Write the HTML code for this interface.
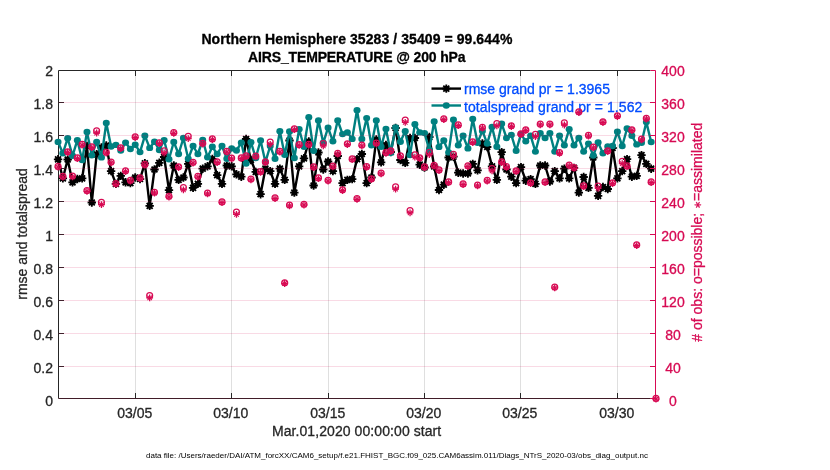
<!DOCTYPE html><html><head><meta charset="utf-8"><title>AIRS_TEMPERATURE @ 200 hPa</title>
<style>html,body{margin:0;padding:0;background:#fff;}body{width:830px;height:470px;overflow:hidden;}svg{display:block;}text{font-family:'Liberation Sans',Arial,Helvetica,sans-serif;}</style></head><body>
<svg width="830" height="470" viewBox="0 0 830 470">
<rect x="0" y="0" width="830" height="470" fill="#fff"/>
<text x="356.9" y="44" font-size="14" font-weight="bold" text-anchor="middle" fill="#000" textLength="311" lengthAdjust="spacing" stroke="#000" stroke-width="0.3">Northern Hemisphere 35283 / 35409 = 99.644%</text>
<text x="356.8" y="61.6" font-size="14" font-weight="bold" text-anchor="middle" fill="#000" textLength="217.6" lengthAdjust="spacing" stroke="#000" stroke-width="0.3">AIRS_TEMPERATURE @ 200 hPa</text>
<path d="M58.5 70.5H650.5" stroke="rgb(38,38,38)" stroke-width="1" fill="none"/>
<path d="M58.5 70.5V398.5" stroke="rgb(38,38,38)" stroke-width="1" fill="none"/>
<path d="M58.5 398.5H655.5" stroke="rgb(65,28,40)" stroke-width="1" fill="none"/>
<path d="M135.50 398.5V393.0M135.50 70.5V76.0" stroke="rgb(38,38,38)" stroke-width="1"/>
<path d="M231.50 398.5V393.0M231.50 70.5V76.0" stroke="rgb(38,38,38)" stroke-width="1"/>
<path d="M328.50 398.5V393.0M328.50 70.5V76.0" stroke="rgb(38,38,38)" stroke-width="1"/>
<path d="M424.50 398.5V393.0M424.50 70.5V76.0" stroke="rgb(38,38,38)" stroke-width="1"/>
<path d="M520.50 398.5V393.0M520.50 70.5V76.0" stroke="rgb(38,38,38)" stroke-width="1"/>
<path d="M617.50 398.5V393.0M617.50 70.5V76.0" stroke="rgb(38,38,38)" stroke-width="1"/>
<path d="M58.5 366.50H64.0" stroke="rgb(38,38,38)" stroke-width="1"/>
<path d="M58.5 333.50H64.0" stroke="rgb(38,38,38)" stroke-width="1"/>
<path d="M58.5 300.50H64.0" stroke="rgb(38,38,38)" stroke-width="1"/>
<path d="M58.5 267.50H64.0" stroke="rgb(38,38,38)" stroke-width="1"/>
<path d="M58.5 234.50H64.0" stroke="rgb(38,38,38)" stroke-width="1"/>
<path d="M58.5 201.50H64.0" stroke="rgb(38,38,38)" stroke-width="1"/>
<path d="M58.5 168.50H64.0" stroke="rgb(38,38,38)" stroke-width="1"/>
<path d="M58.5 135.50H64.0" stroke="rgb(38,38,38)" stroke-width="1"/>
<path d="M58.5 102.50H64.0" stroke="rgb(38,38,38)" stroke-width="1"/>
<polyline points="58.05,159.30 62.87,178.30 67.69,159.50 72.52,182.30 77.34,179.00 82.16,178.30 86.98,146.00 91.80,202.50 96.63,154.30 101.45,147.50 106.27,145.50 111.09,171.10 115.91,183.90 120.74,175.90 125.56,182.30 130.38,183.10 135.20,177.50 140.02,179.00 144.85,163.30 149.67,205.80 154.49,169.50 159.31,162.80 164.13,157.00 168.96,190.20 173.78,165.50 178.60,179.90 183.42,177.50 188.24,163.90 193.07,187.80 197.89,183.90 202.71,168.70 207.53,166.30 212.35,159.00 217.18,175.10 222.00,183.90 226.82,165.50 231.64,166.30 236.46,174.30 241.29,176.70 246.11,139.00 250.93,160.00 255.75,171.90 260.57,194.20 265.40,168.70 270.22,171.10 275.04,183.90 279.86,168.70 284.68,179.90 289.51,140.50 294.33,192.60 299.15,166.30 303.97,158.30 308.79,141.50 313.62,185.50 318.44,152.50 323.26,169.50 328.08,161.50 332.90,171.10 337.73,156.00 342.55,183.10 347.37,179.90 352.19,179.10 357.01,159.10 361.84,154.00 366.66,183.10 371.48,177.50 376.30,139.50 381.12,162.30 385.95,145.00 390.77,152.00 395.59,128.00 400.41,160.00 405.23,162.80 410.06,138.00 414.88,138.00 419.70,164.70 424.52,167.50 429.34,137.00 434.17,166.50 438.99,190.00 443.81,184.70 448.63,157.50 453.45,156.70 458.28,172.70 463.10,173.50 467.92,173.50 472.74,163.90 477.56,170.30 482.39,143.50 487.21,147.00 492.03,166.30 496.85,179.90 501.67,152.20 506.50,169.50 511.32,176.70 516.14,183.10 520.96,167.10 525.78,180.70 530.61,179.10 535.43,183.90 540.25,165.50 545.07,165.50 549.89,181.50 554.72,171.10 559.54,178.30 564.36,168.70 569.18,178.30 574.00,167.90 578.83,192.60 583.65,177.00 588.47,187.80 593.29,157.50 598.11,195.80 602.94,187.00 607.76,189.00 612.58,148.00 617.40,178.30 622.22,171.10 627.05,159.10 631.87,176.70 636.69,175.90 641.51,155.20 646.33,163.90 651.16,168.70" fill="none" stroke="#000" stroke-width="2.4" stroke-linejoin="round"/>
<circle cx="58.05" cy="159.30" r="2.9" fill="#000"/>
<path d="M53.85 159.30L62.25 159.30M55.08 156.33L61.02 162.27M58.05 155.10L58.05 163.50M61.02 156.33L55.08 162.27" stroke="#000" stroke-width="1.8" fill="none"/>
<circle cx="62.87" cy="178.30" r="2.9" fill="#000"/>
<path d="M58.67 178.30L67.07 178.30M59.90 175.33L65.84 181.27M62.87 174.10L62.87 182.50M65.84 175.33L59.90 181.27" stroke="#000" stroke-width="1.8" fill="none"/>
<circle cx="67.69" cy="159.50" r="2.9" fill="#000"/>
<path d="M63.49 159.50L71.89 159.50M64.72 156.53L70.66 162.47M67.69 155.30L67.69 163.70M70.66 156.53L64.72 162.47" stroke="#000" stroke-width="1.8" fill="none"/>
<circle cx="72.52" cy="182.30" r="2.9" fill="#000"/>
<path d="M68.32 182.30L76.72 182.30M69.55 179.33L75.49 185.27M72.52 178.10L72.52 186.50M75.49 179.33L69.55 185.27" stroke="#000" stroke-width="1.8" fill="none"/>
<circle cx="77.34" cy="179.00" r="2.9" fill="#000"/>
<path d="M73.14 179.00L81.54 179.00M74.37 176.03L80.31 181.97M77.34 174.80L77.34 183.20M80.31 176.03L74.37 181.97" stroke="#000" stroke-width="1.8" fill="none"/>
<circle cx="82.16" cy="178.30" r="2.9" fill="#000"/>
<path d="M77.96 178.30L86.36 178.30M79.19 175.33L85.13 181.27M82.16 174.10L82.16 182.50M85.13 175.33L79.19 181.27" stroke="#000" stroke-width="1.8" fill="none"/>
<circle cx="86.98" cy="146.00" r="2.9" fill="#000"/>
<path d="M82.78 146.00L91.18 146.00M84.01 143.03L89.95 148.97M86.98 141.80L86.98 150.20M89.95 143.03L84.01 148.97" stroke="#000" stroke-width="1.8" fill="none"/>
<circle cx="91.80" cy="202.50" r="2.9" fill="#000"/>
<path d="M87.60 202.50L96.00 202.50M88.83 199.53L94.77 205.47M91.80 198.30L91.80 206.70M94.77 199.53L88.83 205.47" stroke="#000" stroke-width="1.8" fill="none"/>
<circle cx="96.63" cy="154.30" r="2.9" fill="#000"/>
<path d="M92.43 154.30L100.83 154.30M93.66 151.33L99.60 157.27M96.63 150.10L96.63 158.50M99.60 151.33L93.66 157.27" stroke="#000" stroke-width="1.8" fill="none"/>
<circle cx="101.45" cy="147.50" r="2.9" fill="#000"/>
<path d="M97.25 147.50L105.65 147.50M98.48 144.53L104.42 150.47M101.45 143.30L101.45 151.70M104.42 144.53L98.48 150.47" stroke="#000" stroke-width="1.8" fill="none"/>
<circle cx="106.27" cy="145.50" r="2.9" fill="#000"/>
<path d="M102.07 145.50L110.47 145.50M103.30 142.53L109.24 148.47M106.27 141.30L106.27 149.70M109.24 142.53L103.30 148.47" stroke="#000" stroke-width="1.8" fill="none"/>
<circle cx="111.09" cy="171.10" r="2.9" fill="#000"/>
<path d="M106.89 171.10L115.29 171.10M108.12 168.13L114.06 174.07M111.09 166.90L111.09 175.30M114.06 168.13L108.12 174.07" stroke="#000" stroke-width="1.8" fill="none"/>
<circle cx="115.91" cy="183.90" r="2.9" fill="#000"/>
<path d="M111.71 183.90L120.11 183.90M112.94 180.93L118.88 186.87M115.91 179.70L115.91 188.10M118.88 180.93L112.94 186.87" stroke="#000" stroke-width="1.8" fill="none"/>
<circle cx="120.74" cy="175.90" r="2.9" fill="#000"/>
<path d="M116.54 175.90L124.94 175.90M117.77 172.93L123.71 178.87M120.74 171.70L120.74 180.10M123.71 172.93L117.77 178.87" stroke="#000" stroke-width="1.8" fill="none"/>
<circle cx="125.56" cy="182.30" r="2.9" fill="#000"/>
<path d="M121.36 182.30L129.76 182.30M122.59 179.33L128.53 185.27M125.56 178.10L125.56 186.50M128.53 179.33L122.59 185.27" stroke="#000" stroke-width="1.8" fill="none"/>
<circle cx="130.38" cy="183.10" r="2.9" fill="#000"/>
<path d="M126.18 183.10L134.58 183.10M127.41 180.13L133.35 186.07M130.38 178.90L130.38 187.30M133.35 180.13L127.41 186.07" stroke="#000" stroke-width="1.8" fill="none"/>
<circle cx="135.20" cy="177.50" r="2.9" fill="#000"/>
<path d="M131.00 177.50L139.40 177.50M132.23 174.53L138.17 180.47M135.20 173.30L135.20 181.70M138.17 174.53L132.23 180.47" stroke="#000" stroke-width="1.8" fill="none"/>
<circle cx="140.02" cy="179.00" r="2.9" fill="#000"/>
<path d="M135.82 179.00L144.22 179.00M137.05 176.03L142.99 181.97M140.02 174.80L140.02 183.20M142.99 176.03L137.05 181.97" stroke="#000" stroke-width="1.8" fill="none"/>
<circle cx="144.85" cy="163.30" r="2.9" fill="#000"/>
<path d="M140.65 163.30L149.05 163.30M141.88 160.33L147.82 166.27M144.85 159.10L144.85 167.50M147.82 160.33L141.88 166.27" stroke="#000" stroke-width="1.8" fill="none"/>
<circle cx="149.67" cy="205.80" r="2.9" fill="#000"/>
<path d="M145.47 205.80L153.87 205.80M146.70 202.83L152.64 208.77M149.67 201.60L149.67 210.00M152.64 202.83L146.70 208.77" stroke="#000" stroke-width="1.8" fill="none"/>
<circle cx="154.49" cy="169.50" r="2.9" fill="#000"/>
<path d="M150.29 169.50L158.69 169.50M151.52 166.53L157.46 172.47M154.49 165.30L154.49 173.70M157.46 166.53L151.52 172.47" stroke="#000" stroke-width="1.8" fill="none"/>
<circle cx="159.31" cy="162.80" r="2.9" fill="#000"/>
<path d="M155.11 162.80L163.51 162.80M156.34 159.83L162.28 165.77M159.31 158.60L159.31 167.00M162.28 159.83L156.34 165.77" stroke="#000" stroke-width="1.8" fill="none"/>
<circle cx="164.13" cy="157.00" r="2.9" fill="#000"/>
<path d="M159.93 157.00L168.33 157.00M161.16 154.03L167.10 159.97M164.13 152.80L164.13 161.20M167.10 154.03L161.16 159.97" stroke="#000" stroke-width="1.8" fill="none"/>
<circle cx="168.96" cy="190.20" r="2.9" fill="#000"/>
<path d="M164.76 190.20L173.16 190.20M165.99 187.23L171.93 193.17M168.96 186.00L168.96 194.40M171.93 187.23L165.99 193.17" stroke="#000" stroke-width="1.8" fill="none"/>
<circle cx="173.78" cy="165.50" r="2.9" fill="#000"/>
<path d="M169.58 165.50L177.98 165.50M170.81 162.53L176.75 168.47M173.78 161.30L173.78 169.70M176.75 162.53L170.81 168.47" stroke="#000" stroke-width="1.8" fill="none"/>
<circle cx="178.60" cy="179.90" r="2.9" fill="#000"/>
<path d="M174.40 179.90L182.80 179.90M175.63 176.93L181.57 182.87M178.60 175.70L178.60 184.10M181.57 176.93L175.63 182.87" stroke="#000" stroke-width="1.8" fill="none"/>
<circle cx="183.42" cy="177.50" r="2.9" fill="#000"/>
<path d="M179.22 177.50L187.62 177.50M180.45 174.53L186.39 180.47M183.42 173.30L183.42 181.70M186.39 174.53L180.45 180.47" stroke="#000" stroke-width="1.8" fill="none"/>
<circle cx="188.24" cy="163.90" r="2.9" fill="#000"/>
<path d="M184.04 163.90L192.44 163.90M185.27 160.93L191.21 166.87M188.24 159.70L188.24 168.10M191.21 160.93L185.27 166.87" stroke="#000" stroke-width="1.8" fill="none"/>
<circle cx="193.07" cy="187.80" r="2.9" fill="#000"/>
<path d="M188.87 187.80L197.27 187.80M190.10 184.83L196.04 190.77M193.07 183.60L193.07 192.00M196.04 184.83L190.10 190.77" stroke="#000" stroke-width="1.8" fill="none"/>
<circle cx="197.89" cy="183.90" r="2.9" fill="#000"/>
<path d="M193.69 183.90L202.09 183.90M194.92 180.93L200.86 186.87M197.89 179.70L197.89 188.10M200.86 180.93L194.92 186.87" stroke="#000" stroke-width="1.8" fill="none"/>
<circle cx="202.71" cy="168.70" r="2.9" fill="#000"/>
<path d="M198.51 168.70L206.91 168.70M199.74 165.73L205.68 171.67M202.71 164.50L202.71 172.90M205.68 165.73L199.74 171.67" stroke="#000" stroke-width="1.8" fill="none"/>
<circle cx="207.53" cy="166.30" r="2.9" fill="#000"/>
<path d="M203.33 166.30L211.73 166.30M204.56 163.33L210.50 169.27M207.53 162.10L207.53 170.50M210.50 163.33L204.56 169.27" stroke="#000" stroke-width="1.8" fill="none"/>
<circle cx="212.35" cy="159.00" r="2.9" fill="#000"/>
<path d="M208.15 159.00L216.55 159.00M209.38 156.03L215.32 161.97M212.35 154.80L212.35 163.20M215.32 156.03L209.38 161.97" stroke="#000" stroke-width="1.8" fill="none"/>
<circle cx="217.18" cy="175.10" r="2.9" fill="#000"/>
<path d="M212.98 175.10L221.38 175.10M214.21 172.13L220.15 178.07M217.18 170.90L217.18 179.30M220.15 172.13L214.21 178.07" stroke="#000" stroke-width="1.8" fill="none"/>
<circle cx="222.00" cy="183.90" r="2.9" fill="#000"/>
<path d="M217.80 183.90L226.20 183.90M219.03 180.93L224.97 186.87M222.00 179.70L222.00 188.10M224.97 180.93L219.03 186.87" stroke="#000" stroke-width="1.8" fill="none"/>
<circle cx="226.82" cy="165.50" r="2.9" fill="#000"/>
<path d="M222.62 165.50L231.02 165.50M223.85 162.53L229.79 168.47M226.82 161.30L226.82 169.70M229.79 162.53L223.85 168.47" stroke="#000" stroke-width="1.8" fill="none"/>
<circle cx="231.64" cy="166.30" r="2.9" fill="#000"/>
<path d="M227.44 166.30L235.84 166.30M228.67 163.33L234.61 169.27M231.64 162.10L231.64 170.50M234.61 163.33L228.67 169.27" stroke="#000" stroke-width="1.8" fill="none"/>
<circle cx="236.46" cy="174.30" r="2.9" fill="#000"/>
<path d="M232.26 174.30L240.66 174.30M233.49 171.33L239.43 177.27M236.46 170.10L236.46 178.50M239.43 171.33L233.49 177.27" stroke="#000" stroke-width="1.8" fill="none"/>
<circle cx="241.29" cy="176.70" r="2.9" fill="#000"/>
<path d="M237.09 176.70L245.49 176.70M238.32 173.73L244.26 179.67M241.29 172.50L241.29 180.90M244.26 173.73L238.32 179.67" stroke="#000" stroke-width="1.8" fill="none"/>
<circle cx="246.11" cy="139.00" r="2.9" fill="#000"/>
<path d="M241.91 139.00L250.31 139.00M243.14 136.03L249.08 141.97M246.11 134.80L246.11 143.20M249.08 136.03L243.14 141.97" stroke="#000" stroke-width="1.8" fill="none"/>
<circle cx="250.93" cy="160.00" r="2.9" fill="#000"/>
<path d="M246.73 160.00L255.13 160.00M247.96 157.03L253.90 162.97M250.93 155.80L250.93 164.20M253.90 157.03L247.96 162.97" stroke="#000" stroke-width="1.8" fill="none"/>
<circle cx="255.75" cy="171.90" r="2.9" fill="#000"/>
<path d="M251.55 171.90L259.95 171.90M252.78 168.93L258.72 174.87M255.75 167.70L255.75 176.10M258.72 168.93L252.78 174.87" stroke="#000" stroke-width="1.8" fill="none"/>
<circle cx="260.57" cy="194.20" r="2.9" fill="#000"/>
<path d="M256.37 194.20L264.77 194.20M257.60 191.23L263.54 197.17M260.57 190.00L260.57 198.40M263.54 191.23L257.60 197.17" stroke="#000" stroke-width="1.8" fill="none"/>
<circle cx="265.40" cy="168.70" r="2.9" fill="#000"/>
<path d="M261.20 168.70L269.60 168.70M262.43 165.73L268.37 171.67M265.40 164.50L265.40 172.90M268.37 165.73L262.43 171.67" stroke="#000" stroke-width="1.8" fill="none"/>
<circle cx="270.22" cy="171.10" r="2.9" fill="#000"/>
<path d="M266.02 171.10L274.42 171.10M267.25 168.13L273.19 174.07M270.22 166.90L270.22 175.30M273.19 168.13L267.25 174.07" stroke="#000" stroke-width="1.8" fill="none"/>
<circle cx="275.04" cy="183.90" r="2.9" fill="#000"/>
<path d="M270.84 183.90L279.24 183.90M272.07 180.93L278.01 186.87M275.04 179.70L275.04 188.10M278.01 180.93L272.07 186.87" stroke="#000" stroke-width="1.8" fill="none"/>
<circle cx="279.86" cy="168.70" r="2.9" fill="#000"/>
<path d="M275.66 168.70L284.06 168.70M276.89 165.73L282.83 171.67M279.86 164.50L279.86 172.90M282.83 165.73L276.89 171.67" stroke="#000" stroke-width="1.8" fill="none"/>
<circle cx="284.68" cy="179.90" r="2.9" fill="#000"/>
<path d="M280.48 179.90L288.88 179.90M281.71 176.93L287.65 182.87M284.68 175.70L284.68 184.10M287.65 176.93L281.71 182.87" stroke="#000" stroke-width="1.8" fill="none"/>
<circle cx="289.51" cy="140.50" r="2.9" fill="#000"/>
<path d="M285.31 140.50L293.71 140.50M286.54 137.53L292.48 143.47M289.51 136.30L289.51 144.70M292.48 137.53L286.54 143.47" stroke="#000" stroke-width="1.8" fill="none"/>
<circle cx="294.33" cy="192.60" r="2.9" fill="#000"/>
<path d="M290.13 192.60L298.53 192.60M291.36 189.63L297.30 195.57M294.33 188.40L294.33 196.80M297.30 189.63L291.36 195.57" stroke="#000" stroke-width="1.8" fill="none"/>
<circle cx="299.15" cy="166.30" r="2.9" fill="#000"/>
<path d="M294.95 166.30L303.35 166.30M296.18 163.33L302.12 169.27M299.15 162.10L299.15 170.50M302.12 163.33L296.18 169.27" stroke="#000" stroke-width="1.8" fill="none"/>
<circle cx="303.97" cy="158.30" r="2.9" fill="#000"/>
<path d="M299.77 158.30L308.17 158.30M301.00 155.33L306.94 161.27M303.97 154.10L303.97 162.50M306.94 155.33L301.00 161.27" stroke="#000" stroke-width="1.8" fill="none"/>
<circle cx="308.79" cy="141.50" r="2.9" fill="#000"/>
<path d="M304.59 141.50L312.99 141.50M305.82 138.53L311.76 144.47M308.79 137.30L308.79 145.70M311.76 138.53L305.82 144.47" stroke="#000" stroke-width="1.8" fill="none"/>
<circle cx="313.62" cy="185.50" r="2.9" fill="#000"/>
<path d="M309.42 185.50L317.82 185.50M310.65 182.53L316.59 188.47M313.62 181.30L313.62 189.70M316.59 182.53L310.65 188.47" stroke="#000" stroke-width="1.8" fill="none"/>
<circle cx="318.44" cy="152.50" r="2.9" fill="#000"/>
<path d="M314.24 152.50L322.64 152.50M315.47 149.53L321.41 155.47M318.44 148.30L318.44 156.70M321.41 149.53L315.47 155.47" stroke="#000" stroke-width="1.8" fill="none"/>
<circle cx="323.26" cy="169.50" r="2.9" fill="#000"/>
<path d="M319.06 169.50L327.46 169.50M320.29 166.53L326.23 172.47M323.26 165.30L323.26 173.70M326.23 166.53L320.29 172.47" stroke="#000" stroke-width="1.8" fill="none"/>
<circle cx="328.08" cy="161.50" r="2.9" fill="#000"/>
<path d="M323.88 161.50L332.28 161.50M325.11 158.53L331.05 164.47M328.08 157.30L328.08 165.70M331.05 158.53L325.11 164.47" stroke="#000" stroke-width="1.8" fill="none"/>
<circle cx="332.90" cy="171.10" r="2.9" fill="#000"/>
<path d="M328.70 171.10L337.10 171.10M329.93 168.13L335.87 174.07M332.90 166.90L332.90 175.30M335.87 168.13L329.93 174.07" stroke="#000" stroke-width="1.8" fill="none"/>
<circle cx="337.73" cy="156.00" r="2.9" fill="#000"/>
<path d="M333.53 156.00L341.93 156.00M334.76 153.03L340.70 158.97M337.73 151.80L337.73 160.20M340.70 153.03L334.76 158.97" stroke="#000" stroke-width="1.8" fill="none"/>
<circle cx="342.55" cy="183.10" r="2.9" fill="#000"/>
<path d="M338.35 183.10L346.75 183.10M339.58 180.13L345.52 186.07M342.55 178.90L342.55 187.30M345.52 180.13L339.58 186.07" stroke="#000" stroke-width="1.8" fill="none"/>
<circle cx="347.37" cy="179.90" r="2.9" fill="#000"/>
<path d="M343.17 179.90L351.57 179.90M344.40 176.93L350.34 182.87M347.37 175.70L347.37 184.10M350.34 176.93L344.40 182.87" stroke="#000" stroke-width="1.8" fill="none"/>
<circle cx="352.19" cy="179.10" r="2.9" fill="#000"/>
<path d="M347.99 179.10L356.39 179.10M349.22 176.13L355.16 182.07M352.19 174.90L352.19 183.30M355.16 176.13L349.22 182.07" stroke="#000" stroke-width="1.8" fill="none"/>
<circle cx="357.01" cy="159.10" r="2.9" fill="#000"/>
<path d="M352.81 159.10L361.21 159.10M354.04 156.13L359.98 162.07M357.01 154.90L357.01 163.30M359.98 156.13L354.04 162.07" stroke="#000" stroke-width="1.8" fill="none"/>
<circle cx="361.84" cy="154.00" r="2.9" fill="#000"/>
<path d="M357.64 154.00L366.04 154.00M358.87 151.03L364.81 156.97M361.84 149.80L361.84 158.20M364.81 151.03L358.87 156.97" stroke="#000" stroke-width="1.8" fill="none"/>
<circle cx="366.66" cy="183.10" r="2.9" fill="#000"/>
<path d="M362.46 183.10L370.86 183.10M363.69 180.13L369.63 186.07M366.66 178.90L366.66 187.30M369.63 180.13L363.69 186.07" stroke="#000" stroke-width="1.8" fill="none"/>
<circle cx="371.48" cy="177.50" r="2.9" fill="#000"/>
<path d="M367.28 177.50L375.68 177.50M368.51 174.53L374.45 180.47M371.48 173.30L371.48 181.70M374.45 174.53L368.51 180.47" stroke="#000" stroke-width="1.8" fill="none"/>
<circle cx="376.30" cy="139.50" r="2.9" fill="#000"/>
<path d="M372.10 139.50L380.50 139.50M373.33 136.53L379.27 142.47M376.30 135.30L376.30 143.70M379.27 136.53L373.33 142.47" stroke="#000" stroke-width="1.8" fill="none"/>
<circle cx="381.12" cy="162.30" r="2.9" fill="#000"/>
<path d="M376.92 162.30L385.32 162.30M378.15 159.33L384.09 165.27M381.12 158.10L381.12 166.50M384.09 159.33L378.15 165.27" stroke="#000" stroke-width="1.8" fill="none"/>
<circle cx="385.95" cy="145.00" r="2.9" fill="#000"/>
<path d="M381.75 145.00L390.15 145.00M382.98 142.03L388.92 147.97M385.95 140.80L385.95 149.20M388.92 142.03L382.98 147.97" stroke="#000" stroke-width="1.8" fill="none"/>
<circle cx="390.77" cy="152.00" r="2.9" fill="#000"/>
<path d="M386.57 152.00L394.97 152.00M387.80 149.03L393.74 154.97M390.77 147.80L390.77 156.20M393.74 149.03L387.80 154.97" stroke="#000" stroke-width="1.8" fill="none"/>
<circle cx="395.59" cy="128.00" r="2.9" fill="#000"/>
<path d="M391.39 128.00L399.79 128.00M392.62 125.03L398.56 130.97M395.59 123.80L395.59 132.20M398.56 125.03L392.62 130.97" stroke="#000" stroke-width="1.8" fill="none"/>
<circle cx="400.41" cy="160.00" r="2.9" fill="#000"/>
<path d="M396.21 160.00L404.61 160.00M397.44 157.03L403.38 162.97M400.41 155.80L400.41 164.20M403.38 157.03L397.44 162.97" stroke="#000" stroke-width="1.8" fill="none"/>
<circle cx="405.23" cy="162.80" r="2.9" fill="#000"/>
<path d="M401.03 162.80L409.43 162.80M402.26 159.83L408.20 165.77M405.23 158.60L405.23 167.00M408.20 159.83L402.26 165.77" stroke="#000" stroke-width="1.8" fill="none"/>
<circle cx="410.06" cy="138.00" r="2.9" fill="#000"/>
<path d="M405.86 138.00L414.26 138.00M407.09 135.03L413.03 140.97M410.06 133.80L410.06 142.20M413.03 135.03L407.09 140.97" stroke="#000" stroke-width="1.8" fill="none"/>
<circle cx="414.88" cy="138.00" r="2.9" fill="#000"/>
<path d="M410.68 138.00L419.08 138.00M411.91 135.03L417.85 140.97M414.88 133.80L414.88 142.20M417.85 135.03L411.91 140.97" stroke="#000" stroke-width="1.8" fill="none"/>
<circle cx="419.70" cy="164.70" r="2.9" fill="#000"/>
<path d="M415.50 164.70L423.90 164.70M416.73 161.73L422.67 167.67M419.70 160.50L419.70 168.90M422.67 161.73L416.73 167.67" stroke="#000" stroke-width="1.8" fill="none"/>
<circle cx="424.52" cy="167.50" r="2.9" fill="#000"/>
<path d="M420.32 167.50L428.72 167.50M421.55 164.53L427.49 170.47M424.52 163.30L424.52 171.70M427.49 164.53L421.55 170.47" stroke="#000" stroke-width="1.8" fill="none"/>
<circle cx="429.34" cy="137.00" r="2.9" fill="#000"/>
<path d="M425.14 137.00L433.54 137.00M426.37 134.03L432.31 139.97M429.34 132.80L429.34 141.20M432.31 134.03L426.37 139.97" stroke="#000" stroke-width="1.8" fill="none"/>
<circle cx="434.17" cy="166.50" r="2.9" fill="#000"/>
<path d="M429.97 166.50L438.37 166.50M431.20 163.53L437.14 169.47M434.17 162.30L434.17 170.70M437.14 163.53L431.20 169.47" stroke="#000" stroke-width="1.8" fill="none"/>
<circle cx="438.99" cy="190.00" r="2.9" fill="#000"/>
<path d="M434.79 190.00L443.19 190.00M436.02 187.03L441.96 192.97M438.99 185.80L438.99 194.20M441.96 187.03L436.02 192.97" stroke="#000" stroke-width="1.8" fill="none"/>
<circle cx="443.81" cy="184.70" r="2.9" fill="#000"/>
<path d="M439.61 184.70L448.01 184.70M440.84 181.73L446.78 187.67M443.81 180.50L443.81 188.90M446.78 181.73L440.84 187.67" stroke="#000" stroke-width="1.8" fill="none"/>
<circle cx="448.63" cy="157.50" r="2.9" fill="#000"/>
<path d="M444.43 157.50L452.83 157.50M445.66 154.53L451.60 160.47M448.63 153.30L448.63 161.70M451.60 154.53L445.66 160.47" stroke="#000" stroke-width="1.8" fill="none"/>
<circle cx="453.45" cy="156.70" r="2.9" fill="#000"/>
<path d="M449.25 156.70L457.65 156.70M450.48 153.73L456.42 159.67M453.45 152.50L453.45 160.90M456.42 153.73L450.48 159.67" stroke="#000" stroke-width="1.8" fill="none"/>
<circle cx="458.28" cy="172.70" r="2.9" fill="#000"/>
<path d="M454.08 172.70L462.48 172.70M455.31 169.73L461.25 175.67M458.28 168.50L458.28 176.90M461.25 169.73L455.31 175.67" stroke="#000" stroke-width="1.8" fill="none"/>
<circle cx="463.10" cy="173.50" r="2.9" fill="#000"/>
<path d="M458.90 173.50L467.30 173.50M460.13 170.53L466.07 176.47M463.10 169.30L463.10 177.70M466.07 170.53L460.13 176.47" stroke="#000" stroke-width="1.8" fill="none"/>
<circle cx="467.92" cy="173.50" r="2.9" fill="#000"/>
<path d="M463.72 173.50L472.12 173.50M464.95 170.53L470.89 176.47M467.92 169.30L467.92 177.70M470.89 170.53L464.95 176.47" stroke="#000" stroke-width="1.8" fill="none"/>
<circle cx="472.74" cy="163.90" r="2.9" fill="#000"/>
<path d="M468.54 163.90L476.94 163.90M469.77 160.93L475.71 166.87M472.74 159.70L472.74 168.10M475.71 160.93L469.77 166.87" stroke="#000" stroke-width="1.8" fill="none"/>
<circle cx="477.56" cy="170.30" r="2.9" fill="#000"/>
<path d="M473.36 170.30L481.76 170.30M474.59 167.33L480.53 173.27M477.56 166.10L477.56 174.50M480.53 167.33L474.59 173.27" stroke="#000" stroke-width="1.8" fill="none"/>
<circle cx="482.39" cy="143.50" r="2.9" fill="#000"/>
<path d="M478.19 143.50L486.59 143.50M479.42 140.53L485.36 146.47M482.39 139.30L482.39 147.70M485.36 140.53L479.42 146.47" stroke="#000" stroke-width="1.8" fill="none"/>
<circle cx="487.21" cy="147.00" r="2.9" fill="#000"/>
<path d="M483.01 147.00L491.41 147.00M484.24 144.03L490.18 149.97M487.21 142.80L487.21 151.20M490.18 144.03L484.24 149.97" stroke="#000" stroke-width="1.8" fill="none"/>
<circle cx="492.03" cy="166.30" r="2.9" fill="#000"/>
<path d="M487.83 166.30L496.23 166.30M489.06 163.33L495.00 169.27M492.03 162.10L492.03 170.50M495.00 163.33L489.06 169.27" stroke="#000" stroke-width="1.8" fill="none"/>
<circle cx="496.85" cy="179.90" r="2.9" fill="#000"/>
<path d="M492.65 179.90L501.05 179.90M493.88 176.93L499.82 182.87M496.85 175.70L496.85 184.10M499.82 176.93L493.88 182.87" stroke="#000" stroke-width="1.8" fill="none"/>
<circle cx="501.67" cy="152.20" r="2.9" fill="#000"/>
<path d="M497.47 152.20L505.87 152.20M498.70 149.23L504.64 155.17M501.67 148.00L501.67 156.40M504.64 149.23L498.70 155.17" stroke="#000" stroke-width="1.8" fill="none"/>
<circle cx="506.50" cy="169.50" r="2.9" fill="#000"/>
<path d="M502.30 169.50L510.70 169.50M503.53 166.53L509.47 172.47M506.50 165.30L506.50 173.70M509.47 166.53L503.53 172.47" stroke="#000" stroke-width="1.8" fill="none"/>
<circle cx="511.32" cy="176.70" r="2.9" fill="#000"/>
<path d="M507.12 176.70L515.52 176.70M508.35 173.73L514.29 179.67M511.32 172.50L511.32 180.90M514.29 173.73L508.35 179.67" stroke="#000" stroke-width="1.8" fill="none"/>
<circle cx="516.14" cy="183.10" r="2.9" fill="#000"/>
<path d="M511.94 183.10L520.34 183.10M513.17 180.13L519.11 186.07M516.14 178.90L516.14 187.30M519.11 180.13L513.17 186.07" stroke="#000" stroke-width="1.8" fill="none"/>
<circle cx="520.96" cy="167.10" r="2.9" fill="#000"/>
<path d="M516.76 167.10L525.16 167.10M517.99 164.13L523.93 170.07M520.96 162.90L520.96 171.30M523.93 164.13L517.99 170.07" stroke="#000" stroke-width="1.8" fill="none"/>
<circle cx="525.78" cy="180.70" r="2.9" fill="#000"/>
<path d="M521.58 180.70L529.98 180.70M522.81 177.73L528.75 183.67M525.78 176.50L525.78 184.90M528.75 177.73L522.81 183.67" stroke="#000" stroke-width="1.8" fill="none"/>
<circle cx="530.61" cy="179.10" r="2.9" fill="#000"/>
<path d="M526.41 179.10L534.81 179.10M527.64 176.13L533.58 182.07M530.61 174.90L530.61 183.30M533.58 176.13L527.64 182.07" stroke="#000" stroke-width="1.8" fill="none"/>
<circle cx="535.43" cy="183.90" r="2.9" fill="#000"/>
<path d="M531.23 183.90L539.63 183.90M532.46 180.93L538.40 186.87M535.43 179.70L535.43 188.10M538.40 180.93L532.46 186.87" stroke="#000" stroke-width="1.8" fill="none"/>
<circle cx="540.25" cy="165.50" r="2.9" fill="#000"/>
<path d="M536.05 165.50L544.45 165.50M537.28 162.53L543.22 168.47M540.25 161.30L540.25 169.70M543.22 162.53L537.28 168.47" stroke="#000" stroke-width="1.8" fill="none"/>
<circle cx="545.07" cy="165.50" r="2.9" fill="#000"/>
<path d="M540.87 165.50L549.27 165.50M542.10 162.53L548.04 168.47M545.07 161.30L545.07 169.70M548.04 162.53L542.10 168.47" stroke="#000" stroke-width="1.8" fill="none"/>
<circle cx="549.89" cy="181.50" r="2.9" fill="#000"/>
<path d="M545.69 181.50L554.09 181.50M546.92 178.53L552.86 184.47M549.89 177.30L549.89 185.70M552.86 178.53L546.92 184.47" stroke="#000" stroke-width="1.8" fill="none"/>
<circle cx="554.72" cy="171.10" r="2.9" fill="#000"/>
<path d="M550.52 171.10L558.92 171.10M551.75 168.13L557.69 174.07M554.72 166.90L554.72 175.30M557.69 168.13L551.75 174.07" stroke="#000" stroke-width="1.8" fill="none"/>
<circle cx="559.54" cy="178.30" r="2.9" fill="#000"/>
<path d="M555.34 178.30L563.74 178.30M556.57 175.33L562.51 181.27M559.54 174.10L559.54 182.50M562.51 175.33L556.57 181.27" stroke="#000" stroke-width="1.8" fill="none"/>
<circle cx="564.36" cy="168.70" r="2.9" fill="#000"/>
<path d="M560.16 168.70L568.56 168.70M561.39 165.73L567.33 171.67M564.36 164.50L564.36 172.90M567.33 165.73L561.39 171.67" stroke="#000" stroke-width="1.8" fill="none"/>
<circle cx="569.18" cy="178.30" r="2.9" fill="#000"/>
<path d="M564.98 178.30L573.38 178.30M566.21 175.33L572.15 181.27M569.18 174.10L569.18 182.50M572.15 175.33L566.21 181.27" stroke="#000" stroke-width="1.8" fill="none"/>
<circle cx="574.00" cy="167.90" r="2.9" fill="#000"/>
<path d="M569.80 167.90L578.20 167.90M571.03 164.93L576.97 170.87M574.00 163.70L574.00 172.10M576.97 164.93L571.03 170.87" stroke="#000" stroke-width="1.8" fill="none"/>
<circle cx="578.83" cy="192.60" r="2.9" fill="#000"/>
<path d="M574.63 192.60L583.03 192.60M575.86 189.63L581.80 195.57M578.83 188.40L578.83 196.80M581.80 189.63L575.86 195.57" stroke="#000" stroke-width="1.8" fill="none"/>
<circle cx="583.65" cy="177.00" r="2.9" fill="#000"/>
<path d="M579.45 177.00L587.85 177.00M580.68 174.03L586.62 179.97M583.65 172.80L583.65 181.20M586.62 174.03L580.68 179.97" stroke="#000" stroke-width="1.8" fill="none"/>
<circle cx="588.47" cy="187.80" r="2.9" fill="#000"/>
<path d="M584.27 187.80L592.67 187.80M585.50 184.83L591.44 190.77M588.47 183.60L588.47 192.00M591.44 184.83L585.50 190.77" stroke="#000" stroke-width="1.8" fill="none"/>
<circle cx="593.29" cy="157.50" r="2.9" fill="#000"/>
<path d="M589.09 157.50L597.49 157.50M590.32 154.53L596.26 160.47M593.29 153.30L593.29 161.70M596.26 154.53L590.32 160.47" stroke="#000" stroke-width="1.8" fill="none"/>
<circle cx="598.11" cy="195.80" r="2.9" fill="#000"/>
<path d="M593.91 195.80L602.31 195.80M595.14 192.83L601.08 198.77M598.11 191.60L598.11 200.00M601.08 192.83L595.14 198.77" stroke="#000" stroke-width="1.8" fill="none"/>
<circle cx="602.94" cy="187.00" r="2.9" fill="#000"/>
<path d="M598.74 187.00L607.14 187.00M599.97 184.03L605.91 189.97M602.94 182.80L602.94 191.20M605.91 184.03L599.97 189.97" stroke="#000" stroke-width="1.8" fill="none"/>
<circle cx="607.76" cy="189.00" r="2.9" fill="#000"/>
<path d="M603.56 189.00L611.96 189.00M604.79 186.03L610.73 191.97M607.76 184.80L607.76 193.20M610.73 186.03L604.79 191.97" stroke="#000" stroke-width="1.8" fill="none"/>
<circle cx="612.58" cy="148.00" r="2.9" fill="#000"/>
<path d="M608.38 148.00L616.78 148.00M609.61 145.03L615.55 150.97M612.58 143.80L612.58 152.20M615.55 145.03L609.61 150.97" stroke="#000" stroke-width="1.8" fill="none"/>
<circle cx="617.40" cy="178.30" r="2.9" fill="#000"/>
<path d="M613.20 178.30L621.60 178.30M614.43 175.33L620.37 181.27M617.40 174.10L617.40 182.50M620.37 175.33L614.43 181.27" stroke="#000" stroke-width="1.8" fill="none"/>
<circle cx="622.22" cy="171.10" r="2.9" fill="#000"/>
<path d="M618.02 171.10L626.42 171.10M619.25 168.13L625.19 174.07M622.22 166.90L622.22 175.30M625.19 168.13L619.25 174.07" stroke="#000" stroke-width="1.8" fill="none"/>
<circle cx="627.05" cy="159.10" r="2.9" fill="#000"/>
<path d="M622.85 159.10L631.25 159.10M624.08 156.13L630.02 162.07M627.05 154.90L627.05 163.30M630.02 156.13L624.08 162.07" stroke="#000" stroke-width="1.8" fill="none"/>
<circle cx="631.87" cy="176.70" r="2.9" fill="#000"/>
<path d="M627.67 176.70L636.07 176.70M628.90 173.73L634.84 179.67M631.87 172.50L631.87 180.90M634.84 173.73L628.90 179.67" stroke="#000" stroke-width="1.8" fill="none"/>
<circle cx="636.69" cy="175.90" r="2.9" fill="#000"/>
<path d="M632.49 175.90L640.89 175.90M633.72 172.93L639.66 178.87M636.69 171.70L636.69 180.10M639.66 172.93L633.72 178.87" stroke="#000" stroke-width="1.8" fill="none"/>
<circle cx="641.51" cy="155.20" r="2.9" fill="#000"/>
<path d="M637.31 155.20L645.71 155.20M638.54 152.23L644.48 158.17M641.51 151.00L641.51 159.40M644.48 152.23L638.54 158.17" stroke="#000" stroke-width="1.8" fill="none"/>
<circle cx="646.33" cy="163.90" r="2.9" fill="#000"/>
<path d="M642.13 163.90L650.53 163.90M643.36 160.93L649.30 166.87M646.33 159.70L646.33 168.10M649.30 160.93L643.36 166.87" stroke="#000" stroke-width="1.8" fill="none"/>
<circle cx="651.16" cy="168.70" r="2.9" fill="#000"/>
<path d="M646.96 168.70L655.36 168.70M648.19 165.73L654.13 171.67M651.16 164.50L651.16 172.90M654.13 165.73L648.19 171.67" stroke="#000" stroke-width="1.8" fill="none"/>
<polyline points="58.05,141.90 62.87,153.30 67.69,138.20 72.52,155.80 77.34,140.20 82.16,160.00 86.98,131.90 91.80,155.20 96.63,141.90 101.45,157.40 106.27,123.00 111.09,146.50 115.91,144.90 120.74,150.50 125.56,142.60 130.38,149.00 135.20,144.70 140.02,152.10 144.85,135.80 149.67,147.90 154.49,141.80 159.31,150.00 164.13,140.20 168.96,159.30 173.78,142.00 178.60,154.00 183.42,138.00 188.24,158.80 193.07,146.00 197.89,154.00 202.71,140.00 207.53,157.20 212.35,146.80 217.18,154.00 222.00,146.00 226.82,158.80 231.64,148.40 236.46,150.50 241.29,142.80 246.11,163.50 250.93,142.20 255.75,158.00 260.57,140.50 265.40,162.10 270.22,146.00 275.04,158.80 279.86,131.30 284.68,154.80 289.51,131.40 294.33,158.00 299.15,129.30 303.97,146.80 308.79,117.30 313.62,150.80 318.44,120.50 323.26,142.80 328.08,127.70 332.90,141.30 337.73,120.50 342.55,134.10 347.37,132.50 352.19,138.90 357.01,110.20 361.84,138.90 366.66,118.10 371.48,145.20 376.30,120.50 381.12,146.80 385.95,129.00 390.77,152.70 395.59,127.40 400.41,141.70 405.23,131.30 410.06,155.00 414.88,124.30 419.70,132.40 424.52,133.10 429.34,150.00 434.17,121.50 438.99,146.90 443.81,140.50 448.63,152.40 453.45,119.70 458.28,145.20 463.10,135.70 467.92,148.40 472.74,118.90 477.56,142.80 482.39,130.90 487.21,143.60 492.03,126.90 496.85,146.80 501.67,123.70 506.50,138.00 511.32,134.90 516.14,150.80 520.96,134.10 525.78,141.30 530.61,135.70 535.43,151.60 540.25,133.30 545.07,138.00 549.89,133.30 554.72,151.60 559.54,135.70 564.36,145.20 569.18,129.30 574.00,145.20 578.83,138.00 583.65,151.60 588.47,143.60 593.29,155.50 598.11,142.40 602.94,153.20 607.76,146.40 612.58,146.00 617.40,131.80 622.22,146.00 627.05,128.50 631.87,135.70 636.69,144.40 641.51,142.80 646.33,122.10 651.16,142.00" fill="none" stroke="rgb(0,128,128)" stroke-width="2.4" stroke-linejoin="round"/>
<ellipse cx="58.05" cy="141.90" rx="3.5" ry="3.2" fill="rgb(0,128,128)"/>
<ellipse cx="62.87" cy="153.30" rx="3.5" ry="3.2" fill="rgb(0,128,128)"/>
<ellipse cx="67.69" cy="138.20" rx="3.5" ry="3.2" fill="rgb(0,128,128)"/>
<ellipse cx="72.52" cy="155.80" rx="3.5" ry="3.2" fill="rgb(0,128,128)"/>
<ellipse cx="77.34" cy="140.20" rx="3.5" ry="3.2" fill="rgb(0,128,128)"/>
<ellipse cx="82.16" cy="160.00" rx="3.5" ry="3.2" fill="rgb(0,128,128)"/>
<ellipse cx="86.98" cy="131.90" rx="3.5" ry="3.2" fill="rgb(0,128,128)"/>
<ellipse cx="91.80" cy="155.20" rx="3.5" ry="3.2" fill="rgb(0,128,128)"/>
<ellipse cx="96.63" cy="141.90" rx="3.5" ry="3.2" fill="rgb(0,128,128)"/>
<ellipse cx="101.45" cy="157.40" rx="3.5" ry="3.2" fill="rgb(0,128,128)"/>
<ellipse cx="106.27" cy="123.00" rx="3.5" ry="3.2" fill="rgb(0,128,128)"/>
<ellipse cx="111.09" cy="146.50" rx="3.5" ry="3.2" fill="rgb(0,128,128)"/>
<ellipse cx="115.91" cy="144.90" rx="3.5" ry="3.2" fill="rgb(0,128,128)"/>
<ellipse cx="120.74" cy="150.50" rx="3.5" ry="3.2" fill="rgb(0,128,128)"/>
<ellipse cx="125.56" cy="142.60" rx="3.5" ry="3.2" fill="rgb(0,128,128)"/>
<ellipse cx="130.38" cy="149.00" rx="3.5" ry="3.2" fill="rgb(0,128,128)"/>
<ellipse cx="135.20" cy="144.70" rx="3.5" ry="3.2" fill="rgb(0,128,128)"/>
<ellipse cx="140.02" cy="152.10" rx="3.5" ry="3.2" fill="rgb(0,128,128)"/>
<ellipse cx="144.85" cy="135.80" rx="3.5" ry="3.2" fill="rgb(0,128,128)"/>
<ellipse cx="149.67" cy="147.90" rx="3.5" ry="3.2" fill="rgb(0,128,128)"/>
<ellipse cx="154.49" cy="141.80" rx="3.5" ry="3.2" fill="rgb(0,128,128)"/>
<ellipse cx="159.31" cy="150.00" rx="3.5" ry="3.2" fill="rgb(0,128,128)"/>
<ellipse cx="164.13" cy="140.20" rx="3.5" ry="3.2" fill="rgb(0,128,128)"/>
<ellipse cx="168.96" cy="159.30" rx="3.5" ry="3.2" fill="rgb(0,128,128)"/>
<ellipse cx="173.78" cy="142.00" rx="3.5" ry="3.2" fill="rgb(0,128,128)"/>
<ellipse cx="178.60" cy="154.00" rx="3.5" ry="3.2" fill="rgb(0,128,128)"/>
<ellipse cx="183.42" cy="138.00" rx="3.5" ry="3.2" fill="rgb(0,128,128)"/>
<ellipse cx="188.24" cy="158.80" rx="3.5" ry="3.2" fill="rgb(0,128,128)"/>
<ellipse cx="193.07" cy="146.00" rx="3.5" ry="3.2" fill="rgb(0,128,128)"/>
<ellipse cx="197.89" cy="154.00" rx="3.5" ry="3.2" fill="rgb(0,128,128)"/>
<ellipse cx="202.71" cy="140.00" rx="3.5" ry="3.2" fill="rgb(0,128,128)"/>
<ellipse cx="207.53" cy="157.20" rx="3.5" ry="3.2" fill="rgb(0,128,128)"/>
<ellipse cx="212.35" cy="146.80" rx="3.5" ry="3.2" fill="rgb(0,128,128)"/>
<ellipse cx="217.18" cy="154.00" rx="3.5" ry="3.2" fill="rgb(0,128,128)"/>
<ellipse cx="222.00" cy="146.00" rx="3.5" ry="3.2" fill="rgb(0,128,128)"/>
<ellipse cx="226.82" cy="158.80" rx="3.5" ry="3.2" fill="rgb(0,128,128)"/>
<ellipse cx="231.64" cy="148.40" rx="3.5" ry="3.2" fill="rgb(0,128,128)"/>
<ellipse cx="236.46" cy="150.50" rx="3.5" ry="3.2" fill="rgb(0,128,128)"/>
<ellipse cx="241.29" cy="142.80" rx="3.5" ry="3.2" fill="rgb(0,128,128)"/>
<ellipse cx="246.11" cy="163.50" rx="3.5" ry="3.2" fill="rgb(0,128,128)"/>
<ellipse cx="250.93" cy="142.20" rx="3.5" ry="3.2" fill="rgb(0,128,128)"/>
<ellipse cx="255.75" cy="158.00" rx="3.5" ry="3.2" fill="rgb(0,128,128)"/>
<ellipse cx="260.57" cy="140.50" rx="3.5" ry="3.2" fill="rgb(0,128,128)"/>
<ellipse cx="265.40" cy="162.10" rx="3.5" ry="3.2" fill="rgb(0,128,128)"/>
<ellipse cx="270.22" cy="146.00" rx="3.5" ry="3.2" fill="rgb(0,128,128)"/>
<ellipse cx="275.04" cy="158.80" rx="3.5" ry="3.2" fill="rgb(0,128,128)"/>
<ellipse cx="279.86" cy="131.30" rx="3.5" ry="3.2" fill="rgb(0,128,128)"/>
<ellipse cx="284.68" cy="154.80" rx="3.5" ry="3.2" fill="rgb(0,128,128)"/>
<ellipse cx="289.51" cy="131.40" rx="3.5" ry="3.2" fill="rgb(0,128,128)"/>
<ellipse cx="294.33" cy="158.00" rx="3.5" ry="3.2" fill="rgb(0,128,128)"/>
<ellipse cx="299.15" cy="129.30" rx="3.5" ry="3.2" fill="rgb(0,128,128)"/>
<ellipse cx="303.97" cy="146.80" rx="3.5" ry="3.2" fill="rgb(0,128,128)"/>
<ellipse cx="308.79" cy="117.30" rx="3.5" ry="3.2" fill="rgb(0,128,128)"/>
<ellipse cx="313.62" cy="150.80" rx="3.5" ry="3.2" fill="rgb(0,128,128)"/>
<ellipse cx="318.44" cy="120.50" rx="3.5" ry="3.2" fill="rgb(0,128,128)"/>
<ellipse cx="323.26" cy="142.80" rx="3.5" ry="3.2" fill="rgb(0,128,128)"/>
<ellipse cx="328.08" cy="127.70" rx="3.5" ry="3.2" fill="rgb(0,128,128)"/>
<ellipse cx="332.90" cy="141.30" rx="3.5" ry="3.2" fill="rgb(0,128,128)"/>
<ellipse cx="337.73" cy="120.50" rx="3.5" ry="3.2" fill="rgb(0,128,128)"/>
<ellipse cx="342.55" cy="134.10" rx="3.5" ry="3.2" fill="rgb(0,128,128)"/>
<ellipse cx="347.37" cy="132.50" rx="3.5" ry="3.2" fill="rgb(0,128,128)"/>
<ellipse cx="352.19" cy="138.90" rx="3.5" ry="3.2" fill="rgb(0,128,128)"/>
<ellipse cx="357.01" cy="110.20" rx="3.5" ry="3.2" fill="rgb(0,128,128)"/>
<ellipse cx="361.84" cy="138.90" rx="3.5" ry="3.2" fill="rgb(0,128,128)"/>
<ellipse cx="366.66" cy="118.10" rx="3.5" ry="3.2" fill="rgb(0,128,128)"/>
<ellipse cx="371.48" cy="145.20" rx="3.5" ry="3.2" fill="rgb(0,128,128)"/>
<ellipse cx="376.30" cy="120.50" rx="3.5" ry="3.2" fill="rgb(0,128,128)"/>
<ellipse cx="381.12" cy="146.80" rx="3.5" ry="3.2" fill="rgb(0,128,128)"/>
<ellipse cx="385.95" cy="129.00" rx="3.5" ry="3.2" fill="rgb(0,128,128)"/>
<ellipse cx="390.77" cy="152.70" rx="3.5" ry="3.2" fill="rgb(0,128,128)"/>
<ellipse cx="395.59" cy="127.40" rx="3.5" ry="3.2" fill="rgb(0,128,128)"/>
<ellipse cx="400.41" cy="141.70" rx="3.5" ry="3.2" fill="rgb(0,128,128)"/>
<ellipse cx="405.23" cy="131.30" rx="3.5" ry="3.2" fill="rgb(0,128,128)"/>
<ellipse cx="410.06" cy="155.00" rx="3.5" ry="3.2" fill="rgb(0,128,128)"/>
<ellipse cx="414.88" cy="124.30" rx="3.5" ry="3.2" fill="rgb(0,128,128)"/>
<ellipse cx="419.70" cy="132.40" rx="3.5" ry="3.2" fill="rgb(0,128,128)"/>
<ellipse cx="424.52" cy="133.10" rx="3.5" ry="3.2" fill="rgb(0,128,128)"/>
<ellipse cx="429.34" cy="150.00" rx="3.5" ry="3.2" fill="rgb(0,128,128)"/>
<ellipse cx="434.17" cy="121.50" rx="3.5" ry="3.2" fill="rgb(0,128,128)"/>
<ellipse cx="438.99" cy="146.90" rx="3.5" ry="3.2" fill="rgb(0,128,128)"/>
<ellipse cx="443.81" cy="140.50" rx="3.5" ry="3.2" fill="rgb(0,128,128)"/>
<ellipse cx="448.63" cy="152.40" rx="3.5" ry="3.2" fill="rgb(0,128,128)"/>
<ellipse cx="453.45" cy="119.70" rx="3.5" ry="3.2" fill="rgb(0,128,128)"/>
<ellipse cx="458.28" cy="145.20" rx="3.5" ry="3.2" fill="rgb(0,128,128)"/>
<ellipse cx="463.10" cy="135.70" rx="3.5" ry="3.2" fill="rgb(0,128,128)"/>
<ellipse cx="467.92" cy="148.40" rx="3.5" ry="3.2" fill="rgb(0,128,128)"/>
<ellipse cx="472.74" cy="118.90" rx="3.5" ry="3.2" fill="rgb(0,128,128)"/>
<ellipse cx="477.56" cy="142.80" rx="3.5" ry="3.2" fill="rgb(0,128,128)"/>
<ellipse cx="482.39" cy="130.90" rx="3.5" ry="3.2" fill="rgb(0,128,128)"/>
<ellipse cx="487.21" cy="143.60" rx="3.5" ry="3.2" fill="rgb(0,128,128)"/>
<ellipse cx="492.03" cy="126.90" rx="3.5" ry="3.2" fill="rgb(0,128,128)"/>
<ellipse cx="496.85" cy="146.80" rx="3.5" ry="3.2" fill="rgb(0,128,128)"/>
<ellipse cx="501.67" cy="123.70" rx="3.5" ry="3.2" fill="rgb(0,128,128)"/>
<ellipse cx="506.50" cy="138.00" rx="3.5" ry="3.2" fill="rgb(0,128,128)"/>
<ellipse cx="511.32" cy="134.90" rx="3.5" ry="3.2" fill="rgb(0,128,128)"/>
<ellipse cx="516.14" cy="150.80" rx="3.5" ry="3.2" fill="rgb(0,128,128)"/>
<ellipse cx="520.96" cy="134.10" rx="3.5" ry="3.2" fill="rgb(0,128,128)"/>
<ellipse cx="525.78" cy="141.30" rx="3.5" ry="3.2" fill="rgb(0,128,128)"/>
<ellipse cx="530.61" cy="135.70" rx="3.5" ry="3.2" fill="rgb(0,128,128)"/>
<ellipse cx="535.43" cy="151.60" rx="3.5" ry="3.2" fill="rgb(0,128,128)"/>
<ellipse cx="540.25" cy="133.30" rx="3.5" ry="3.2" fill="rgb(0,128,128)"/>
<ellipse cx="545.07" cy="138.00" rx="3.5" ry="3.2" fill="rgb(0,128,128)"/>
<ellipse cx="549.89" cy="133.30" rx="3.5" ry="3.2" fill="rgb(0,128,128)"/>
<ellipse cx="554.72" cy="151.60" rx="3.5" ry="3.2" fill="rgb(0,128,128)"/>
<ellipse cx="559.54" cy="135.70" rx="3.5" ry="3.2" fill="rgb(0,128,128)"/>
<ellipse cx="564.36" cy="145.20" rx="3.5" ry="3.2" fill="rgb(0,128,128)"/>
<ellipse cx="569.18" cy="129.30" rx="3.5" ry="3.2" fill="rgb(0,128,128)"/>
<ellipse cx="574.00" cy="145.20" rx="3.5" ry="3.2" fill="rgb(0,128,128)"/>
<ellipse cx="578.83" cy="138.00" rx="3.5" ry="3.2" fill="rgb(0,128,128)"/>
<ellipse cx="583.65" cy="151.60" rx="3.5" ry="3.2" fill="rgb(0,128,128)"/>
<ellipse cx="588.47" cy="143.60" rx="3.5" ry="3.2" fill="rgb(0,128,128)"/>
<ellipse cx="593.29" cy="155.50" rx="3.5" ry="3.2" fill="rgb(0,128,128)"/>
<ellipse cx="598.11" cy="142.40" rx="3.5" ry="3.2" fill="rgb(0,128,128)"/>
<ellipse cx="602.94" cy="153.20" rx="3.5" ry="3.2" fill="rgb(0,128,128)"/>
<ellipse cx="607.76" cy="146.40" rx="3.5" ry="3.2" fill="rgb(0,128,128)"/>
<ellipse cx="612.58" cy="146.00" rx="3.5" ry="3.2" fill="rgb(0,128,128)"/>
<ellipse cx="617.40" cy="131.80" rx="3.5" ry="3.2" fill="rgb(0,128,128)"/>
<ellipse cx="622.22" cy="146.00" rx="3.5" ry="3.2" fill="rgb(0,128,128)"/>
<ellipse cx="627.05" cy="128.50" rx="3.5" ry="3.2" fill="rgb(0,128,128)"/>
<ellipse cx="631.87" cy="135.70" rx="3.5" ry="3.2" fill="rgb(0,128,128)"/>
<ellipse cx="636.69" cy="144.40" rx="3.5" ry="3.2" fill="rgb(0,128,128)"/>
<ellipse cx="641.51" cy="142.80" rx="3.5" ry="3.2" fill="rgb(0,128,128)"/>
<ellipse cx="646.33" cy="122.10" rx="3.5" ry="3.2" fill="rgb(0,128,128)"/>
<ellipse cx="651.16" cy="142.00" rx="3.5" ry="3.2" fill="rgb(0,128,128)"/>
<line x1="431.5" y1="88.6" x2="461" y2="88.6" stroke="#000" stroke-width="2.4"/>
<circle cx="446.3" cy="88.6" r="2.9" fill="#000"/>
<path d="M442.10 88.60L450.50 88.60M443.33 85.63L449.27 91.57M446.30 84.40L446.30 92.80M449.27 85.63L443.33 91.57" stroke="#000" stroke-width="1.8" fill="none"/>
<line x1="431.5" y1="105.5" x2="461" y2="105.5" stroke="rgb(0,128,128)" stroke-width="2.4"/>
<ellipse cx="446.3" cy="105.5" rx="3.5" ry="3.2" fill="rgb(0,128,128)"/>
<text x="464" y="93.6" font-size="14" fill="rgb(0,76,255)" stroke="rgb(0,76,255)" stroke-width="0.3">rmse grand pr = 1.3965</text>
<text x="464" y="111.6" font-size="14" fill="rgb(0,76,255)" textLength="178.3" lengthAdjust="spacing" stroke="rgb(0,76,255)" stroke-width="0.3">totalspread grand pr = 1.562</text>
<line x1="135.50" y1="70.50" x2="135.50" y2="398.50" stroke="rgb(38,38,38)" stroke-opacity="0.15" stroke-width="1"/>
<line x1="231.50" y1="70.50" x2="231.50" y2="398.50" stroke="rgb(38,38,38)" stroke-opacity="0.15" stroke-width="1"/>
<line x1="328.50" y1="70.50" x2="328.50" y2="398.50" stroke="rgb(38,38,38)" stroke-opacity="0.15" stroke-width="1"/>
<line x1="424.50" y1="70.50" x2="424.50" y2="398.50" stroke="rgb(38,38,38)" stroke-opacity="0.15" stroke-width="1"/>
<line x1="520.50" y1="70.50" x2="520.50" y2="398.50" stroke="rgb(38,38,38)" stroke-opacity="0.15" stroke-width="1"/>
<line x1="617.50" y1="70.50" x2="617.50" y2="398.50" stroke="rgb(38,38,38)" stroke-opacity="0.15" stroke-width="1"/>
<line x1="58.50" y1="366.50" x2="655.50" y2="366.50" stroke="rgb(215,10,83)" stroke-opacity="0.15" stroke-width="1"/>
<line x1="58.50" y1="333.50" x2="655.50" y2="333.50" stroke="rgb(215,10,83)" stroke-opacity="0.15" stroke-width="1"/>
<line x1="58.50" y1="300.50" x2="655.50" y2="300.50" stroke="rgb(215,10,83)" stroke-opacity="0.15" stroke-width="1"/>
<line x1="58.50" y1="267.50" x2="655.50" y2="267.50" stroke="rgb(215,10,83)" stroke-opacity="0.15" stroke-width="1"/>
<line x1="58.50" y1="234.50" x2="655.50" y2="234.50" stroke="rgb(215,10,83)" stroke-opacity="0.15" stroke-width="1"/>
<line x1="58.50" y1="201.50" x2="655.50" y2="201.50" stroke="rgb(215,10,83)" stroke-opacity="0.15" stroke-width="1"/>
<line x1="58.50" y1="168.50" x2="655.50" y2="168.50" stroke="rgb(215,10,83)" stroke-opacity="0.15" stroke-width="1"/>
<line x1="58.50" y1="135.50" x2="655.50" y2="135.50" stroke="rgb(215,10,83)" stroke-opacity="0.15" stroke-width="1"/>
<line x1="58.50" y1="102.50" x2="655.50" y2="102.50" stroke="rgb(215,10,83)" stroke-opacity="0.15" stroke-width="1"/>
<path d="M655.5 70.5V398.5" stroke="rgb(215,10,83)" stroke-width="1" fill="none"/>
<path d="M650.5 70.5H655.5" stroke="rgb(215,10,83)" stroke-width="1" fill="none"/>
<path d="M655.5 366.50H650.0" stroke="rgb(215,10,83)" stroke-width="1"/>
<path d="M655.5 333.50H650.0" stroke="rgb(215,10,83)" stroke-width="1"/>
<path d="M655.5 300.50H650.0" stroke="rgb(215,10,83)" stroke-width="1"/>
<path d="M655.5 267.50H650.0" stroke="rgb(215,10,83)" stroke-width="1"/>
<path d="M655.5 234.50H650.0" stroke="rgb(215,10,83)" stroke-width="1"/>
<path d="M655.5 201.50H650.0" stroke="rgb(215,10,83)" stroke-width="1"/>
<path d="M655.5 168.50H650.0" stroke="rgb(215,10,83)" stroke-width="1"/>
<path d="M655.5 135.50H650.0" stroke="rgb(215,10,83)" stroke-width="1"/>
<path d="M655.5 102.50H650.0" stroke="rgb(215,10,83)" stroke-width="1"/>
<path d="M655.5 398.50H650.0" stroke="rgb(215,10,83)" stroke-width="1"/>
<circle cx="58.05" cy="166.40" r="2.95" fill="none" stroke="rgb(215,10,83)" stroke-width="1.25"/>
<path d="M54.65 167.20H61.45M58.05 163.80V170.60" stroke="rgb(215,10,83)" stroke-width="1.3" fill="none"/><path d="M55.79 164.94L60.31 169.46M55.79 169.46L60.31 164.94" stroke="rgb(215,10,83)" stroke-width="1.05" fill="none"/>
<circle cx="62.87" cy="176.30" r="2.95" fill="none" stroke="rgb(215,10,83)" stroke-width="1.25"/>
<path d="M59.47 177.10H66.27M62.87 173.70V180.50" stroke="rgb(215,10,83)" stroke-width="1.3" fill="none"/><path d="M60.61 174.84L65.13 179.36M60.61 179.36L65.13 174.84" stroke="rgb(215,10,83)" stroke-width="1.05" fill="none"/>
<circle cx="67.69" cy="151.70" r="2.95" fill="none" stroke="rgb(215,10,83)" stroke-width="1.25"/>
<path d="M64.29 152.50H71.09M67.69 149.10V155.90" stroke="rgb(215,10,83)" stroke-width="1.3" fill="none"/><path d="M65.43 150.24L69.96 154.76M65.43 154.76L69.96 150.24" stroke="rgb(215,10,83)" stroke-width="1.05" fill="none"/>
<circle cx="72.52" cy="176.00" r="2.95" fill="none" stroke="rgb(215,10,83)" stroke-width="1.25"/>
<path d="M69.12 176.80H75.92M72.52 173.40V180.20" stroke="rgb(215,10,83)" stroke-width="1.3" fill="none"/><path d="M70.25 174.54L74.78 179.06M70.25 179.06L74.78 174.54" stroke="rgb(215,10,83)" stroke-width="1.05" fill="none"/>
<circle cx="77.34" cy="157.90" r="2.95" fill="none" stroke="rgb(215,10,83)" stroke-width="1.25"/>
<path d="M73.94 158.70H80.74M77.34 155.30V162.10" stroke="rgb(215,10,83)" stroke-width="1.3" fill="none"/><path d="M75.08 156.44L79.60 160.96M75.08 160.96L79.60 156.44" stroke="rgb(215,10,83)" stroke-width="1.05" fill="none"/>
<circle cx="82.16" cy="144.30" r="2.95" fill="none" stroke="rgb(215,10,83)" stroke-width="1.25"/>
<path d="M78.76 145.10H85.56M82.16 141.70V148.50" stroke="rgb(215,10,83)" stroke-width="1.3" fill="none"/><path d="M79.90 142.84L84.42 147.36M79.90 147.36L84.42 142.84" stroke="rgb(215,10,83)" stroke-width="1.05" fill="none"/>
<circle cx="86.98" cy="190.60" r="2.95" fill="none" stroke="rgb(215,10,83)" stroke-width="1.25"/>
<path d="M83.58 191.40H90.38M86.98 188.00V194.80" stroke="rgb(215,10,83)" stroke-width="1.3" fill="none"/><path d="M84.72 189.14L89.24 193.66M84.72 193.66L89.24 189.14" stroke="rgb(215,10,83)" stroke-width="1.05" fill="none"/>
<circle cx="91.80" cy="146.80" r="2.95" fill="none" stroke="rgb(215,10,83)" stroke-width="1.25"/>
<path d="M88.40 147.60H95.20M91.80 144.20V151.00" stroke="rgb(215,10,83)" stroke-width="1.3" fill="none"/><path d="M89.54 145.34L94.07 149.86M89.54 149.86L94.07 145.34" stroke="rgb(215,10,83)" stroke-width="1.05" fill="none"/>
<circle cx="96.63" cy="130.70" r="2.95" fill="none" stroke="rgb(215,10,83)" stroke-width="1.25"/>
<path d="M93.23 133.00H100.03M96.63 129.60V136.40" stroke="rgb(215,10,83)" stroke-width="1.3" fill="none"/><path d="M94.36 130.74L98.89 135.26M94.36 135.26L98.89 130.74" stroke="rgb(215,10,83)" stroke-width="1.05" fill="none"/>
<circle cx="101.45" cy="202.40" r="2.95" fill="none" stroke="rgb(215,10,83)" stroke-width="1.25"/>
<path d="M98.05 204.70H104.85M101.45 201.30V208.10" stroke="rgb(215,10,83)" stroke-width="1.3" fill="none"/><path d="M99.19 202.44L103.71 206.96M99.19 206.96L103.71 202.44" stroke="rgb(215,10,83)" stroke-width="1.05" fill="none"/>
<circle cx="106.27" cy="152.20" r="2.95" fill="none" stroke="rgb(215,10,83)" stroke-width="1.25"/>
<path d="M102.87 153.00H109.67M106.27 149.60V156.40" stroke="rgb(215,10,83)" stroke-width="1.3" fill="none"/><path d="M104.01 150.74L108.53 155.26M104.01 155.26L108.53 150.74" stroke="rgb(215,10,83)" stroke-width="1.05" fill="none"/>
<circle cx="111.09" cy="162.10" r="2.95" fill="none" stroke="rgb(215,10,83)" stroke-width="1.25"/>
<path d="M107.69 162.90H114.49M111.09 159.50V166.30" stroke="rgb(215,10,83)" stroke-width="1.3" fill="none"/><path d="M108.83 160.64L113.35 165.16M108.83 165.16L113.35 160.64" stroke="rgb(215,10,83)" stroke-width="1.05" fill="none"/>
<circle cx="115.91" cy="183.50" r="2.95" fill="none" stroke="rgb(215,10,83)" stroke-width="1.25"/>
<path d="M112.51 184.30H119.31M115.91 180.90V187.70" stroke="rgb(215,10,83)" stroke-width="1.3" fill="none"/><path d="M113.65 182.04L118.18 186.56M113.65 186.56L118.18 182.04" stroke="rgb(215,10,83)" stroke-width="1.05" fill="none"/>
<circle cx="120.74" cy="147.80" r="2.95" fill="none" stroke="rgb(215,10,83)" stroke-width="1.25"/>
<path d="M117.34 148.60H124.14M120.74 145.20V152.00" stroke="rgb(215,10,83)" stroke-width="1.3" fill="none"/><path d="M118.47 146.34L123.00 150.86M118.47 150.86L123.00 146.34" stroke="rgb(215,10,83)" stroke-width="1.05" fill="none"/>
<circle cx="125.56" cy="170.80" r="2.95" fill="none" stroke="rgb(215,10,83)" stroke-width="1.25"/>
<path d="M122.16 171.60H128.96M125.56 168.20V175.00" stroke="rgb(215,10,83)" stroke-width="1.3" fill="none"/><path d="M123.30 169.34L127.82 173.86M123.30 173.86L127.82 169.34" stroke="rgb(215,10,83)" stroke-width="1.05" fill="none"/>
<circle cx="130.38" cy="180.30" r="2.95" fill="none" stroke="rgb(215,10,83)" stroke-width="1.25"/>
<path d="M126.98 181.10H133.78M130.38 177.70V184.50" stroke="rgb(215,10,83)" stroke-width="1.3" fill="none"/><path d="M128.12 178.84L132.64 183.36M128.12 183.36L132.64 178.84" stroke="rgb(215,10,83)" stroke-width="1.05" fill="none"/>
<circle cx="135.20" cy="136.80" r="2.95" fill="none" stroke="rgb(215,10,83)" stroke-width="1.25"/>
<path d="M131.80 137.60H138.60M135.20 134.20V141.00" stroke="rgb(215,10,83)" stroke-width="1.3" fill="none"/><path d="M132.94 135.34L137.46 139.86M132.94 139.86L137.46 135.34" stroke="rgb(215,10,83)" stroke-width="1.05" fill="none"/>
<circle cx="140.02" cy="177.90" r="2.95" fill="none" stroke="rgb(215,10,83)" stroke-width="1.25"/>
<path d="M136.62 178.70H143.42M140.02 175.30V182.10" stroke="rgb(215,10,83)" stroke-width="1.3" fill="none"/><path d="M137.76 176.44L142.29 180.96M137.76 180.96L142.29 176.44" stroke="rgb(215,10,83)" stroke-width="1.05" fill="none"/>
<circle cx="144.85" cy="164.40" r="2.95" fill="none" stroke="rgb(215,10,83)" stroke-width="1.25"/>
<path d="M141.45 165.20H148.25M144.85 161.80V168.60" stroke="rgb(215,10,83)" stroke-width="1.3" fill="none"/><path d="M142.58 162.94L147.11 167.46M142.58 167.46L147.11 162.94" stroke="rgb(215,10,83)" stroke-width="1.05" fill="none"/>
<circle cx="149.67" cy="295.50" r="2.95" fill="none" stroke="rgb(215,10,83)" stroke-width="1.25"/>
<path d="M146.27 297.80H153.07M149.67 294.40V301.20" stroke="rgb(215,10,83)" stroke-width="1.3" fill="none"/><path d="M147.41 295.54L151.93 300.06M147.41 300.06L151.93 295.54" stroke="rgb(215,10,83)" stroke-width="1.05" fill="none"/>
<circle cx="154.49" cy="192.20" r="2.95" fill="none" stroke="rgb(215,10,83)" stroke-width="1.25"/>
<path d="M151.09 193.00H157.89M154.49 189.60V196.40" stroke="rgb(215,10,83)" stroke-width="1.3" fill="none"/><path d="M152.23 190.74L156.75 195.26M152.23 195.26L156.75 190.74" stroke="rgb(215,10,83)" stroke-width="1.05" fill="none"/>
<circle cx="159.31" cy="142.80" r="2.95" fill="none" stroke="rgb(215,10,83)" stroke-width="1.25"/>
<path d="M155.91 143.60H162.71M159.31 140.20V147.00" stroke="rgb(215,10,83)" stroke-width="1.3" fill="none"/><path d="M157.05 141.34L161.57 145.86M157.05 145.86L161.57 141.34" stroke="rgb(215,10,83)" stroke-width="1.05" fill="none"/>
<circle cx="164.13" cy="150.70" r="2.95" fill="none" stroke="rgb(215,10,83)" stroke-width="1.25"/>
<path d="M160.73 153.00H167.53M164.13 149.60V156.40" stroke="rgb(215,10,83)" stroke-width="1.3" fill="none"/><path d="M161.87 150.74L166.40 155.26M161.87 155.26L166.40 150.74" stroke="rgb(215,10,83)" stroke-width="1.05" fill="none"/>
<circle cx="168.96" cy="196.20" r="2.95" fill="none" stroke="rgb(215,10,83)" stroke-width="1.25"/>
<path d="M165.56 197.00H172.36M168.96 193.60V200.40" stroke="rgb(215,10,83)" stroke-width="1.3" fill="none"/><path d="M166.69 194.74L171.22 199.26M166.69 199.26L171.22 194.74" stroke="rgb(215,10,83)" stroke-width="1.05" fill="none"/>
<circle cx="173.78" cy="132.60" r="2.95" fill="none" stroke="rgb(215,10,83)" stroke-width="1.25"/>
<path d="M170.38 133.40H177.18M173.78 130.00V136.80" stroke="rgb(215,10,83)" stroke-width="1.3" fill="none"/><path d="M171.52 131.14L176.04 135.66M171.52 135.66L176.04 131.14" stroke="rgb(215,10,83)" stroke-width="1.05" fill="none"/>
<circle cx="178.60" cy="166.70" r="2.95" fill="none" stroke="rgb(215,10,83)" stroke-width="1.25"/>
<path d="M175.20 167.50H182.00M178.60 164.10V170.90" stroke="rgb(215,10,83)" stroke-width="1.3" fill="none"/><path d="M176.34 165.24L180.86 169.76M176.34 169.76L180.86 165.24" stroke="rgb(215,10,83)" stroke-width="1.05" fill="none"/>
<circle cx="183.42" cy="187.60" r="2.95" fill="none" stroke="rgb(215,10,83)" stroke-width="1.25"/>
<path d="M180.02 189.90H186.82M183.42 186.50V193.30" stroke="rgb(215,10,83)" stroke-width="1.3" fill="none"/><path d="M181.16 187.64L185.68 192.16M181.16 192.16L185.68 187.64" stroke="rgb(215,10,83)" stroke-width="1.05" fill="none"/>
<circle cx="188.24" cy="136.30" r="2.95" fill="none" stroke="rgb(215,10,83)" stroke-width="1.25"/>
<path d="M184.84 138.60H191.64M188.24 135.20V142.00" stroke="rgb(215,10,83)" stroke-width="1.3" fill="none"/><path d="M185.98 136.34L190.51 140.86M185.98 140.86L190.51 136.34" stroke="rgb(215,10,83)" stroke-width="1.05" fill="none"/>
<circle cx="193.07" cy="162.30" r="2.95" fill="none" stroke="rgb(215,10,83)" stroke-width="1.25"/>
<path d="M189.67 163.10H196.47M193.07 159.70V166.50" stroke="rgb(215,10,83)" stroke-width="1.3" fill="none"/><path d="M190.80 160.84L195.33 165.36M190.80 165.36L195.33 160.84" stroke="rgb(215,10,83)" stroke-width="1.05" fill="none"/>
<circle cx="197.89" cy="176.30" r="2.95" fill="none" stroke="rgb(215,10,83)" stroke-width="1.25"/>
<path d="M194.49 177.10H201.29M197.89 173.70V180.50" stroke="rgb(215,10,83)" stroke-width="1.3" fill="none"/><path d="M195.63 174.84L200.15 179.36M195.63 179.36L200.15 174.84" stroke="rgb(215,10,83)" stroke-width="1.05" fill="none"/>
<circle cx="202.71" cy="143.20" r="2.95" fill="none" stroke="rgb(215,10,83)" stroke-width="1.25"/>
<path d="M199.31 144.00H206.11M202.71 140.60V147.40" stroke="rgb(215,10,83)" stroke-width="1.3" fill="none"/><path d="M200.45 141.74L204.97 146.26M200.45 146.26L204.97 141.74" stroke="rgb(215,10,83)" stroke-width="1.05" fill="none"/>
<circle cx="207.53" cy="193.00" r="2.95" fill="none" stroke="rgb(215,10,83)" stroke-width="1.25"/>
<path d="M204.13 193.80H210.93M207.53 190.40V197.20" stroke="rgb(215,10,83)" stroke-width="1.3" fill="none"/><path d="M205.27 191.54L209.79 196.06M205.27 196.06L209.79 191.54" stroke="rgb(215,10,83)" stroke-width="1.05" fill="none"/>
<circle cx="212.35" cy="138.90" r="2.95" fill="none" stroke="rgb(215,10,83)" stroke-width="1.25"/>
<path d="M208.95 139.70H215.75M212.35 136.30V143.10" stroke="rgb(215,10,83)" stroke-width="1.3" fill="none"/><path d="M210.09 137.44L214.62 141.96M210.09 141.96L214.62 137.44" stroke="rgb(215,10,83)" stroke-width="1.05" fill="none"/>
<circle cx="217.18" cy="161.80" r="2.95" fill="none" stroke="rgb(215,10,83)" stroke-width="1.25"/>
<path d="M213.78 162.60H220.58M217.18 159.20V166.00" stroke="rgb(215,10,83)" stroke-width="1.3" fill="none"/><path d="M214.91 160.34L219.44 164.86M214.91 164.86L219.44 160.34" stroke="rgb(215,10,83)" stroke-width="1.05" fill="none"/>
<circle cx="222.00" cy="201.90" r="2.95" fill="none" stroke="rgb(215,10,83)" stroke-width="1.25"/>
<path d="M218.60 202.70H225.40M222.00 199.30V206.10" stroke="rgb(215,10,83)" stroke-width="1.3" fill="none"/><path d="M219.74 200.44L224.26 204.96M219.74 204.96L224.26 200.44" stroke="rgb(215,10,83)" stroke-width="1.05" fill="none"/>
<circle cx="226.82" cy="151.40" r="2.95" fill="none" stroke="rgb(215,10,83)" stroke-width="1.25"/>
<path d="M223.42 152.20H230.22M226.82 148.80V155.60" stroke="rgb(215,10,83)" stroke-width="1.3" fill="none"/><path d="M224.56 149.94L229.08 154.46M224.56 154.46L229.08 149.94" stroke="rgb(215,10,83)" stroke-width="1.05" fill="none"/>
<circle cx="231.64" cy="158.10" r="2.95" fill="none" stroke="rgb(215,10,83)" stroke-width="1.25"/>
<path d="M228.24 158.90H235.04M231.64 155.50V162.30" stroke="rgb(215,10,83)" stroke-width="1.3" fill="none"/><path d="M229.38 156.64L233.90 161.16M229.38 161.16L233.90 156.64" stroke="rgb(215,10,83)" stroke-width="1.05" fill="none"/>
<circle cx="236.46" cy="212.00" r="2.95" fill="none" stroke="rgb(215,10,83)" stroke-width="1.25"/>
<path d="M233.06 214.30H239.86M236.46 210.90V217.70" stroke="rgb(215,10,83)" stroke-width="1.3" fill="none"/><path d="M234.20 212.04L238.73 216.56M234.20 216.56L238.73 212.04" stroke="rgb(215,10,83)" stroke-width="1.05" fill="none"/>
<circle cx="241.29" cy="157.90" r="2.95" fill="none" stroke="rgb(215,10,83)" stroke-width="1.25"/>
<path d="M237.89 158.70H244.69M241.29 155.30V162.10" stroke="rgb(215,10,83)" stroke-width="1.3" fill="none"/><path d="M239.02 156.44L243.55 160.96M239.02 160.96L243.55 156.44" stroke="rgb(215,10,83)" stroke-width="1.05" fill="none"/>
<circle cx="246.11" cy="155.90" r="2.95" fill="none" stroke="rgb(215,10,83)" stroke-width="1.25"/>
<path d="M242.71 156.70H249.51M246.11 153.30V160.10" stroke="rgb(215,10,83)" stroke-width="1.3" fill="none"/><path d="M243.85 154.44L248.37 158.96M243.85 158.96L248.37 154.44" stroke="rgb(215,10,83)" stroke-width="1.05" fill="none"/>
<circle cx="250.93" cy="179.00" r="2.95" fill="none" stroke="rgb(215,10,83)" stroke-width="1.25"/>
<path d="M247.53 179.80H254.33M250.93 176.40V183.20" stroke="rgb(215,10,83)" stroke-width="1.3" fill="none"/><path d="M248.67 177.54L253.19 182.06M248.67 182.06L253.19 177.54" stroke="rgb(215,10,83)" stroke-width="1.05" fill="none"/>
<circle cx="255.75" cy="156.00" r="2.95" fill="none" stroke="rgb(215,10,83)" stroke-width="1.25"/>
<path d="M252.35 156.80H259.15M255.75 153.40V160.20" stroke="rgb(215,10,83)" stroke-width="1.3" fill="none"/><path d="M253.49 154.54L258.01 159.06M253.49 159.06L258.01 154.54" stroke="rgb(215,10,83)" stroke-width="1.05" fill="none"/>
<circle cx="260.57" cy="171.60" r="2.95" fill="none" stroke="rgb(215,10,83)" stroke-width="1.25"/>
<path d="M257.17 172.40H263.97M260.57 169.00V175.80" stroke="rgb(215,10,83)" stroke-width="1.3" fill="none"/><path d="M258.31 170.14L262.84 174.66M258.31 174.66L262.84 170.14" stroke="rgb(215,10,83)" stroke-width="1.05" fill="none"/>
<circle cx="265.40" cy="161.90" r="2.95" fill="none" stroke="rgb(215,10,83)" stroke-width="1.25"/>
<path d="M262.00 162.70H268.80M265.40 159.30V166.10" stroke="rgb(215,10,83)" stroke-width="1.3" fill="none"/><path d="M263.13 160.44L267.66 164.96M263.13 164.96L267.66 160.44" stroke="rgb(215,10,83)" stroke-width="1.05" fill="none"/>
<circle cx="270.22" cy="142.10" r="2.95" fill="none" stroke="rgb(215,10,83)" stroke-width="1.25"/>
<path d="M266.82 144.40H273.62M270.22 141.00V147.80" stroke="rgb(215,10,83)" stroke-width="1.3" fill="none"/><path d="M267.96 142.14L272.48 146.66M267.96 146.66L272.48 142.14" stroke="rgb(215,10,83)" stroke-width="1.05" fill="none"/>
<circle cx="275.04" cy="197.80" r="2.95" fill="none" stroke="rgb(215,10,83)" stroke-width="1.25"/>
<path d="M271.64 198.60H278.44M275.04 195.20V202.00" stroke="rgb(215,10,83)" stroke-width="1.3" fill="none"/><path d="M272.78 196.34L277.30 200.86M272.78 200.86L277.30 196.34" stroke="rgb(215,10,83)" stroke-width="1.05" fill="none"/>
<circle cx="279.86" cy="151.30" r="2.95" fill="none" stroke="rgb(215,10,83)" stroke-width="1.25"/>
<path d="M276.46 152.10H283.26M279.86 148.70V155.50" stroke="rgb(215,10,83)" stroke-width="1.3" fill="none"/><path d="M277.60 149.84L282.12 154.36M277.60 154.36L282.12 149.84" stroke="rgb(215,10,83)" stroke-width="1.05" fill="none"/>
<circle cx="284.68" cy="282.70" r="2.95" fill="none" stroke="rgb(215,10,83)" stroke-width="1.25"/>
<path d="M281.28 283.50H288.08M284.68 280.10V286.90" stroke="rgb(215,10,83)" stroke-width="1.3" fill="none"/><path d="M282.42 281.24L286.95 285.76M282.42 285.76L286.95 281.24" stroke="rgb(215,10,83)" stroke-width="1.05" fill="none"/>
<circle cx="289.51" cy="205.00" r="2.95" fill="none" stroke="rgb(215,10,83)" stroke-width="1.25"/>
<path d="M286.11 205.80H292.91M289.51 202.40V209.20" stroke="rgb(215,10,83)" stroke-width="1.3" fill="none"/><path d="M287.24 203.54L291.77 208.06M287.24 208.06L291.77 203.54" stroke="rgb(215,10,83)" stroke-width="1.05" fill="none"/>
<circle cx="294.33" cy="128.90" r="2.95" fill="none" stroke="rgb(215,10,83)" stroke-width="1.25"/>
<path d="M290.93 129.70H297.73M294.33 126.30V133.10" stroke="rgb(215,10,83)" stroke-width="1.3" fill="none"/><path d="M292.07 127.44L296.59 131.96M292.07 131.96L296.59 127.44" stroke="rgb(215,10,83)" stroke-width="1.05" fill="none"/>
<circle cx="299.15" cy="144.60" r="2.95" fill="none" stroke="rgb(215,10,83)" stroke-width="1.25"/>
<path d="M295.75 145.40H302.55M299.15 142.00V148.80" stroke="rgb(215,10,83)" stroke-width="1.3" fill="none"/><path d="M296.89 143.14L301.41 147.66M296.89 147.66L301.41 143.14" stroke="rgb(215,10,83)" stroke-width="1.05" fill="none"/>
<circle cx="303.97" cy="204.20" r="2.95" fill="none" stroke="rgb(215,10,83)" stroke-width="1.25"/>
<path d="M300.57 205.00H307.37M303.97 201.60V208.40" stroke="rgb(215,10,83)" stroke-width="1.3" fill="none"/><path d="M301.71 202.74L306.23 207.26M301.71 207.26L306.23 202.74" stroke="rgb(215,10,83)" stroke-width="1.05" fill="none"/>
<circle cx="308.79" cy="144.20" r="2.95" fill="none" stroke="rgb(215,10,83)" stroke-width="1.25"/>
<path d="M305.39 145.00H312.19M308.79 141.60V148.40" stroke="rgb(215,10,83)" stroke-width="1.3" fill="none"/><path d="M306.53 142.74L311.06 147.26M306.53 147.26L311.06 142.74" stroke="rgb(215,10,83)" stroke-width="1.05" fill="none"/>
<circle cx="313.62" cy="166.90" r="2.95" fill="none" stroke="rgb(215,10,83)" stroke-width="1.25"/>
<path d="M310.22 167.70H317.02M313.62 164.30V171.10" stroke="rgb(215,10,83)" stroke-width="1.3" fill="none"/><path d="M311.35 165.44L315.88 169.96M311.35 169.96L315.88 165.44" stroke="rgb(215,10,83)" stroke-width="1.05" fill="none"/>
<circle cx="318.44" cy="177.90" r="2.95" fill="none" stroke="rgb(215,10,83)" stroke-width="1.25"/>
<path d="M315.04 178.70H321.84M318.44 175.30V182.10" stroke="rgb(215,10,83)" stroke-width="1.3" fill="none"/><path d="M316.18 176.44L320.70 180.96M316.18 180.96L320.70 176.44" stroke="rgb(215,10,83)" stroke-width="1.05" fill="none"/>
<circle cx="323.26" cy="143.60" r="2.95" fill="none" stroke="rgb(215,10,83)" stroke-width="1.25"/>
<path d="M319.86 145.90H326.66M323.26 142.50V149.30" stroke="rgb(215,10,83)" stroke-width="1.3" fill="none"/><path d="M321.00 143.64L325.52 148.16M321.00 148.16L325.52 143.64" stroke="rgb(215,10,83)" stroke-width="1.05" fill="none"/>
<circle cx="328.08" cy="180.30" r="2.95" fill="none" stroke="rgb(215,10,83)" stroke-width="1.25"/>
<path d="M324.68 181.10H331.48M328.08 177.70V184.50" stroke="rgb(215,10,83)" stroke-width="1.3" fill="none"/><path d="M325.82 178.84L330.34 183.36M325.82 183.36L330.34 178.84" stroke="rgb(215,10,83)" stroke-width="1.05" fill="none"/>
<circle cx="332.90" cy="166.00" r="2.95" fill="none" stroke="rgb(215,10,83)" stroke-width="1.25"/>
<path d="M329.50 166.80H336.30M332.90 163.40V170.20" stroke="rgb(215,10,83)" stroke-width="1.3" fill="none"/><path d="M330.64 164.54L335.17 169.06M330.64 169.06L335.17 164.54" stroke="rgb(215,10,83)" stroke-width="1.05" fill="none"/>
<circle cx="337.73" cy="153.30" r="2.95" fill="none" stroke="rgb(215,10,83)" stroke-width="1.25"/>
<path d="M334.33 154.10H341.13M337.73 150.70V157.50" stroke="rgb(215,10,83)" stroke-width="1.3" fill="none"/><path d="M335.46 151.84L339.99 156.36M335.46 156.36L339.99 151.84" stroke="rgb(215,10,83)" stroke-width="1.05" fill="none"/>
<circle cx="342.55" cy="189.80" r="2.95" fill="none" stroke="rgb(215,10,83)" stroke-width="1.25"/>
<path d="M339.15 190.60H345.95M342.55 187.20V194.00" stroke="rgb(215,10,83)" stroke-width="1.3" fill="none"/><path d="M340.29 188.34L344.81 192.86M340.29 192.86L344.81 188.34" stroke="rgb(215,10,83)" stroke-width="1.05" fill="none"/>
<circle cx="347.37" cy="143.80" r="2.95" fill="none" stroke="rgb(215,10,83)" stroke-width="1.25"/>
<path d="M343.97 144.60H350.77M347.37 141.20V148.00" stroke="rgb(215,10,83)" stroke-width="1.3" fill="none"/><path d="M345.11 142.34L349.63 146.86M345.11 146.86L349.63 142.34" stroke="rgb(215,10,83)" stroke-width="1.05" fill="none"/>
<circle cx="352.19" cy="158.90" r="2.95" fill="none" stroke="rgb(215,10,83)" stroke-width="1.25"/>
<path d="M348.79 159.70H355.59M352.19 156.30V163.10" stroke="rgb(215,10,83)" stroke-width="1.3" fill="none"/><path d="M349.93 157.44L354.45 161.96M349.93 161.96L354.45 157.44" stroke="rgb(215,10,83)" stroke-width="1.05" fill="none"/>
<circle cx="357.01" cy="198.60" r="2.95" fill="none" stroke="rgb(215,10,83)" stroke-width="1.25"/>
<path d="M353.61 199.40H360.41M357.01 196.00V202.80" stroke="rgb(215,10,83)" stroke-width="1.3" fill="none"/><path d="M354.75 197.14L359.28 201.66M354.75 201.66L359.28 197.14" stroke="rgb(215,10,83)" stroke-width="1.05" fill="none"/>
<circle cx="361.84" cy="145.00" r="2.95" fill="none" stroke="rgb(215,10,83)" stroke-width="1.25"/>
<path d="M358.44 145.80H365.24M361.84 142.40V149.20" stroke="rgb(215,10,83)" stroke-width="1.3" fill="none"/><path d="M359.57 143.54L364.10 148.06M359.57 148.06L364.10 143.54" stroke="rgb(215,10,83)" stroke-width="1.05" fill="none"/>
<circle cx="366.66" cy="166.50" r="2.95" fill="none" stroke="rgb(215,10,83)" stroke-width="1.25"/>
<path d="M363.26 167.30H370.06M366.66 163.90V170.70" stroke="rgb(215,10,83)" stroke-width="1.3" fill="none"/><path d="M364.40 165.04L368.92 169.56M364.40 169.56L368.92 165.04" stroke="rgb(215,10,83)" stroke-width="1.05" fill="none"/>
<circle cx="371.48" cy="178.70" r="2.95" fill="none" stroke="rgb(215,10,83)" stroke-width="1.25"/>
<path d="M368.08 179.50H374.88M371.48 176.10V182.90" stroke="rgb(215,10,83)" stroke-width="1.3" fill="none"/><path d="M369.22 177.24L373.74 181.76M369.22 181.76L373.74 177.24" stroke="rgb(215,10,83)" stroke-width="1.05" fill="none"/>
<circle cx="376.30" cy="143.00" r="2.95" fill="none" stroke="rgb(215,10,83)" stroke-width="1.25"/>
<path d="M372.90 143.80H379.70M376.30 140.40V147.20" stroke="rgb(215,10,83)" stroke-width="1.3" fill="none"/><path d="M374.04 141.54L378.56 146.06M374.04 146.06L378.56 141.54" stroke="rgb(215,10,83)" stroke-width="1.05" fill="none"/>
<circle cx="381.12" cy="173.10" r="2.95" fill="none" stroke="rgb(215,10,83)" stroke-width="1.25"/>
<path d="M377.72 173.90H384.52M381.12 170.50V177.30" stroke="rgb(215,10,83)" stroke-width="1.3" fill="none"/><path d="M378.86 171.64L383.39 176.16M378.86 176.16L383.39 171.64" stroke="rgb(215,10,83)" stroke-width="1.05" fill="none"/>
<circle cx="385.95" cy="152.60" r="2.95" fill="none" stroke="rgb(215,10,83)" stroke-width="1.25"/>
<path d="M382.55 153.40H389.35M385.95 150.00V156.80" stroke="rgb(215,10,83)" stroke-width="1.3" fill="none"/><path d="M383.68 151.14L388.21 155.66M383.68 155.66L388.21 151.14" stroke="rgb(215,10,83)" stroke-width="1.05" fill="none"/>
<circle cx="390.77" cy="150.70" r="2.95" fill="none" stroke="rgb(215,10,83)" stroke-width="1.25"/>
<path d="M387.37 151.50H394.17M390.77 148.10V154.90" stroke="rgb(215,10,83)" stroke-width="1.3" fill="none"/><path d="M388.51 149.24L393.03 153.76M388.51 153.76L393.03 149.24" stroke="rgb(215,10,83)" stroke-width="1.05" fill="none"/>
<circle cx="395.59" cy="186.80" r="2.95" fill="none" stroke="rgb(215,10,83)" stroke-width="1.25"/>
<path d="M392.19 189.10H398.99M395.59 185.70V192.50" stroke="rgb(215,10,83)" stroke-width="1.3" fill="none"/><path d="M393.33 186.84L397.85 191.36M393.33 191.36L397.85 186.84" stroke="rgb(215,10,83)" stroke-width="1.05" fill="none"/>
<circle cx="400.41" cy="155.80" r="2.95" fill="none" stroke="rgb(215,10,83)" stroke-width="1.25"/>
<path d="M397.01 156.60H403.81M400.41 153.20V160.00" stroke="rgb(215,10,83)" stroke-width="1.3" fill="none"/><path d="M398.15 154.34L402.67 158.86M398.15 158.86L402.67 154.34" stroke="rgb(215,10,83)" stroke-width="1.05" fill="none"/>
<circle cx="405.23" cy="120.00" r="2.95" fill="none" stroke="rgb(215,10,83)" stroke-width="1.25"/>
<path d="M401.83 122.30H408.63M405.23 118.90V125.70" stroke="rgb(215,10,83)" stroke-width="1.3" fill="none"/><path d="M402.97 120.04L407.50 124.56M402.97 124.56L407.50 120.04" stroke="rgb(215,10,83)" stroke-width="1.05" fill="none"/>
<circle cx="410.06" cy="210.50" r="2.95" fill="none" stroke="rgb(215,10,83)" stroke-width="1.25"/>
<path d="M406.66 212.80H413.46M410.06 209.40V216.20" stroke="rgb(215,10,83)" stroke-width="1.3" fill="none"/><path d="M407.79 210.54L412.32 215.06M407.79 215.06L412.32 210.54" stroke="rgb(215,10,83)" stroke-width="1.05" fill="none"/>
<circle cx="414.88" cy="154.80" r="2.95" fill="none" stroke="rgb(215,10,83)" stroke-width="1.25"/>
<path d="M411.48 157.10H418.28M414.88 153.70V160.50" stroke="rgb(215,10,83)" stroke-width="1.3" fill="none"/><path d="M412.62 154.84L417.14 159.36M412.62 159.36L417.14 154.84" stroke="rgb(215,10,83)" stroke-width="1.05" fill="none"/>
<circle cx="419.70" cy="157.70" r="2.95" fill="none" stroke="rgb(215,10,83)" stroke-width="1.25"/>
<path d="M416.30 158.50H423.10M419.70 155.10V161.90" stroke="rgb(215,10,83)" stroke-width="1.3" fill="none"/><path d="M417.44 156.24L421.96 160.76M417.44 160.76L421.96 156.24" stroke="rgb(215,10,83)" stroke-width="1.05" fill="none"/>
<circle cx="424.52" cy="166.90" r="2.95" fill="none" stroke="rgb(215,10,83)" stroke-width="1.25"/>
<path d="M421.12 167.70H427.92M424.52 164.30V171.10" stroke="rgb(215,10,83)" stroke-width="1.3" fill="none"/><path d="M422.26 165.44L426.78 169.96M422.26 169.96L426.78 165.44" stroke="rgb(215,10,83)" stroke-width="1.05" fill="none"/>
<circle cx="429.34" cy="152.40" r="2.95" fill="none" stroke="rgb(215,10,83)" stroke-width="1.25"/>
<path d="M425.94 154.70H432.74M429.34 151.30V158.10" stroke="rgb(215,10,83)" stroke-width="1.3" fill="none"/><path d="M427.08 152.44L431.61 156.96M427.08 156.96L431.61 152.44" stroke="rgb(215,10,83)" stroke-width="1.05" fill="none"/>
<circle cx="434.17" cy="165.30" r="2.95" fill="none" stroke="rgb(215,10,83)" stroke-width="1.25"/>
<path d="M430.77 166.10H437.57M434.17 162.70V169.50" stroke="rgb(215,10,83)" stroke-width="1.3" fill="none"/><path d="M431.90 163.84L436.43 168.36M431.90 168.36L436.43 163.84" stroke="rgb(215,10,83)" stroke-width="1.05" fill="none"/>
<circle cx="438.99" cy="169.90" r="2.95" fill="none" stroke="rgb(215,10,83)" stroke-width="1.25"/>
<path d="M435.59 170.70H442.39M438.99 167.30V174.10" stroke="rgb(215,10,83)" stroke-width="1.3" fill="none"/><path d="M436.73 168.44L441.25 172.96M436.73 172.96L441.25 168.44" stroke="rgb(215,10,83)" stroke-width="1.05" fill="none"/>
<circle cx="443.81" cy="118.80" r="2.95" fill="none" stroke="rgb(215,10,83)" stroke-width="1.25"/>
<path d="M440.41 119.60H447.21M443.81 116.20V123.00" stroke="rgb(215,10,83)" stroke-width="1.3" fill="none"/><path d="M441.55 117.34L446.07 121.86M441.55 121.86L446.07 117.34" stroke="rgb(215,10,83)" stroke-width="1.05" fill="none"/>
<circle cx="448.63" cy="181.90" r="2.95" fill="none" stroke="rgb(215,10,83)" stroke-width="1.25"/>
<path d="M445.23 182.70H452.03M448.63 179.30V186.10" stroke="rgb(215,10,83)" stroke-width="1.3" fill="none"/><path d="M446.37 180.44L450.89 184.96M446.37 184.96L450.89 180.44" stroke="rgb(215,10,83)" stroke-width="1.05" fill="none"/>
<circle cx="453.45" cy="154.20" r="2.95" fill="none" stroke="rgb(215,10,83)" stroke-width="1.25"/>
<path d="M450.05 156.50H456.85M453.45 153.10V159.90" stroke="rgb(215,10,83)" stroke-width="1.3" fill="none"/><path d="M451.19 154.24L455.72 158.76M451.19 158.76L455.72 154.24" stroke="rgb(215,10,83)" stroke-width="1.05" fill="none"/>
<circle cx="458.28" cy="124.90" r="2.95" fill="none" stroke="rgb(215,10,83)" stroke-width="1.25"/>
<path d="M454.88 125.70H461.68M458.28 122.30V129.10" stroke="rgb(215,10,83)" stroke-width="1.3" fill="none"/><path d="M456.01 123.44L460.54 127.96M456.01 127.96L460.54 123.44" stroke="rgb(215,10,83)" stroke-width="1.05" fill="none"/>
<circle cx="463.10" cy="183.90" r="2.95" fill="none" stroke="rgb(215,10,83)" stroke-width="1.25"/>
<path d="M459.70 184.70H466.50M463.10 181.30V188.10" stroke="rgb(215,10,83)" stroke-width="1.3" fill="none"/><path d="M460.84 182.44L465.36 186.96M460.84 186.96L465.36 182.44" stroke="rgb(215,10,83)" stroke-width="1.05" fill="none"/>
<circle cx="467.92" cy="165.80" r="2.95" fill="none" stroke="rgb(215,10,83)" stroke-width="1.25"/>
<path d="M464.52 166.60H471.32M467.92 163.20V170.00" stroke="rgb(215,10,83)" stroke-width="1.3" fill="none"/><path d="M465.66 164.34L470.18 168.86M465.66 168.86L470.18 164.34" stroke="rgb(215,10,83)" stroke-width="1.05" fill="none"/>
<circle cx="472.74" cy="141.80" r="2.95" fill="none" stroke="rgb(215,10,83)" stroke-width="1.25"/>
<path d="M469.34 142.60H476.14M472.74 139.20V146.00" stroke="rgb(215,10,83)" stroke-width="1.3" fill="none"/><path d="M470.48 140.34L475.00 144.86M470.48 144.86L475.00 140.34" stroke="rgb(215,10,83)" stroke-width="1.05" fill="none"/>
<circle cx="477.56" cy="185.10" r="2.95" fill="none" stroke="rgb(215,10,83)" stroke-width="1.25"/>
<path d="M474.16 185.90H480.96M477.56 182.50V189.30" stroke="rgb(215,10,83)" stroke-width="1.3" fill="none"/><path d="M475.30 183.64L479.83 188.16M475.30 188.16L479.83 183.64" stroke="rgb(215,10,83)" stroke-width="1.05" fill="none"/>
<circle cx="482.39" cy="127.30" r="2.95" fill="none" stroke="rgb(215,10,83)" stroke-width="1.25"/>
<path d="M478.99 128.10H485.79M482.39 124.70V131.50" stroke="rgb(215,10,83)" stroke-width="1.3" fill="none"/><path d="M480.12 125.84L484.65 130.36M480.12 130.36L484.65 125.84" stroke="rgb(215,10,83)" stroke-width="1.05" fill="none"/>
<circle cx="487.21" cy="180.30" r="2.95" fill="none" stroke="rgb(215,10,83)" stroke-width="1.25"/>
<path d="M483.81 181.10H490.61M487.21 177.70V184.50" stroke="rgb(215,10,83)" stroke-width="1.3" fill="none"/><path d="M484.95 178.84L489.47 183.36M484.95 183.36L489.47 178.84" stroke="rgb(215,10,83)" stroke-width="1.05" fill="none"/>
<circle cx="492.03" cy="168.50" r="2.95" fill="none" stroke="rgb(215,10,83)" stroke-width="1.25"/>
<path d="M488.63 170.80H495.43M492.03 167.40V174.20" stroke="rgb(215,10,83)" stroke-width="1.3" fill="none"/><path d="M489.77 168.54L494.29 173.06M489.77 173.06L494.29 168.54" stroke="rgb(215,10,83)" stroke-width="1.05" fill="none"/>
<circle cx="496.85" cy="123.50" r="2.95" fill="none" stroke="rgb(215,10,83)" stroke-width="1.25"/>
<path d="M493.45 125.80H500.25M496.85 122.40V129.20" stroke="rgb(215,10,83)" stroke-width="1.3" fill="none"/><path d="M494.59 123.54L499.11 128.06M494.59 128.06L499.11 123.54" stroke="rgb(215,10,83)" stroke-width="1.05" fill="none"/>
<circle cx="501.67" cy="161.70" r="2.95" fill="none" stroke="rgb(215,10,83)" stroke-width="1.25"/>
<path d="M498.27 162.50H505.07M501.67 159.10V165.90" stroke="rgb(215,10,83)" stroke-width="1.3" fill="none"/><path d="M499.41 160.24L503.94 164.76M499.41 164.76L503.94 160.24" stroke="rgb(215,10,83)" stroke-width="1.05" fill="none"/>
<circle cx="506.50" cy="166.60" r="2.95" fill="none" stroke="rgb(215,10,83)" stroke-width="1.25"/>
<path d="M503.10 167.40H509.90M506.50 164.00V170.80" stroke="rgb(215,10,83)" stroke-width="1.3" fill="none"/><path d="M504.23 165.14L508.76 169.66M504.23 169.66L508.76 165.14" stroke="rgb(215,10,83)" stroke-width="1.05" fill="none"/>
<circle cx="511.32" cy="125.70" r="2.95" fill="none" stroke="rgb(215,10,83)" stroke-width="1.25"/>
<path d="M507.92 126.50H514.72M511.32 123.10V129.90" stroke="rgb(215,10,83)" stroke-width="1.3" fill="none"/><path d="M509.06 124.24L513.58 128.76M509.06 128.76L513.58 124.24" stroke="rgb(215,10,83)" stroke-width="1.05" fill="none"/>
<circle cx="516.14" cy="170.70" r="2.95" fill="none" stroke="rgb(215,10,83)" stroke-width="1.25"/>
<path d="M512.74 171.50H519.54M516.14 168.10V174.90" stroke="rgb(215,10,83)" stroke-width="1.3" fill="none"/><path d="M513.88 169.24L518.40 173.76M513.88 173.76L518.40 169.24" stroke="rgb(215,10,83)" stroke-width="1.05" fill="none"/>
<circle cx="520.96" cy="133.70" r="2.95" fill="none" stroke="rgb(215,10,83)" stroke-width="1.25"/>
<path d="M517.56 134.50H524.36M520.96 131.10V137.90" stroke="rgb(215,10,83)" stroke-width="1.3" fill="none"/><path d="M518.70 132.24L523.22 136.76M518.70 136.76L523.22 132.24" stroke="rgb(215,10,83)" stroke-width="1.05" fill="none"/>
<circle cx="525.78" cy="129.70" r="2.95" fill="none" stroke="rgb(215,10,83)" stroke-width="1.25"/>
<path d="M522.38 130.50H529.18M525.78 127.10V133.90" stroke="rgb(215,10,83)" stroke-width="1.3" fill="none"/><path d="M523.52 128.24L528.05 132.76M523.52 132.76L528.05 128.24" stroke="rgb(215,10,83)" stroke-width="1.05" fill="none"/>
<circle cx="530.61" cy="182.70" r="2.95" fill="none" stroke="rgb(215,10,83)" stroke-width="1.25"/>
<path d="M527.21 183.50H534.01M530.61 180.10V186.90" stroke="rgb(215,10,83)" stroke-width="1.3" fill="none"/><path d="M528.34 181.24L532.87 185.76M528.34 185.76L532.87 181.24" stroke="rgb(215,10,83)" stroke-width="1.05" fill="none"/>
<circle cx="535.43" cy="134.30" r="2.95" fill="none" stroke="rgb(215,10,83)" stroke-width="1.25"/>
<path d="M532.03 136.60H538.83M535.43 133.20V140.00" stroke="rgb(215,10,83)" stroke-width="1.3" fill="none"/><path d="M533.17 134.34L537.69 138.86M533.17 138.86L537.69 134.34" stroke="rgb(215,10,83)" stroke-width="1.05" fill="none"/>
<circle cx="540.25" cy="124.10" r="2.95" fill="none" stroke="rgb(215,10,83)" stroke-width="1.25"/>
<path d="M536.85 124.90H543.65M540.25 121.50V128.30" stroke="rgb(215,10,83)" stroke-width="1.3" fill="none"/><path d="M537.99 122.64L542.51 127.16M537.99 127.16L542.51 122.64" stroke="rgb(215,10,83)" stroke-width="1.05" fill="none"/>
<circle cx="545.07" cy="181.90" r="2.95" fill="none" stroke="rgb(215,10,83)" stroke-width="1.25"/>
<path d="M541.67 182.70H548.47M545.07 179.30V186.10" stroke="rgb(215,10,83)" stroke-width="1.3" fill="none"/><path d="M542.81 180.44L547.33 184.96M542.81 184.96L547.33 180.44" stroke="rgb(215,10,83)" stroke-width="1.05" fill="none"/>
<circle cx="549.89" cy="124.10" r="2.95" fill="none" stroke="rgb(215,10,83)" stroke-width="1.25"/>
<path d="M546.49 124.90H553.29M549.89 121.50V128.30" stroke="rgb(215,10,83)" stroke-width="1.3" fill="none"/><path d="M547.63 122.64L552.16 127.16M547.63 127.16L552.16 122.64" stroke="rgb(215,10,83)" stroke-width="1.05" fill="none"/>
<circle cx="554.72" cy="287.10" r="2.95" fill="none" stroke="rgb(215,10,83)" stroke-width="1.25"/>
<path d="M551.32 287.90H558.12M554.72 284.50V291.30" stroke="rgb(215,10,83)" stroke-width="1.3" fill="none"/><path d="M552.45 285.64L556.98 290.16M552.45 290.16L556.98 285.64" stroke="rgb(215,10,83)" stroke-width="1.05" fill="none"/>
<circle cx="559.54" cy="152.60" r="2.95" fill="none" stroke="rgb(215,10,83)" stroke-width="1.25"/>
<path d="M556.14 153.40H562.94M559.54 150.00V156.80" stroke="rgb(215,10,83)" stroke-width="1.3" fill="none"/><path d="M557.28 151.14L561.80 155.66M557.28 155.66L561.80 151.14" stroke="rgb(215,10,83)" stroke-width="1.05" fill="none"/>
<circle cx="564.36" cy="122.70" r="2.95" fill="none" stroke="rgb(215,10,83)" stroke-width="1.25"/>
<path d="M560.96 125.00H567.76M564.36 121.60V128.40" stroke="rgb(215,10,83)" stroke-width="1.3" fill="none"/><path d="M562.10 122.74L566.62 127.26M562.10 127.26L566.62 122.74" stroke="rgb(215,10,83)" stroke-width="1.05" fill="none"/>
<circle cx="569.18" cy="165.10" r="2.95" fill="none" stroke="rgb(215,10,83)" stroke-width="1.25"/>
<path d="M565.78 165.90H572.58M569.18 162.50V169.30" stroke="rgb(215,10,83)" stroke-width="1.3" fill="none"/><path d="M566.92 163.64L571.44 168.16M566.92 168.16L571.44 163.64" stroke="rgb(215,10,83)" stroke-width="1.05" fill="none"/>
<circle cx="574.00" cy="167.50" r="2.95" fill="none" stroke="rgb(215,10,83)" stroke-width="1.25"/>
<path d="M570.60 168.30H577.40M574.00 164.90V171.70" stroke="rgb(215,10,83)" stroke-width="1.3" fill="none"/><path d="M571.74 166.04L576.27 170.56M571.74 170.56L576.27 166.04" stroke="rgb(215,10,83)" stroke-width="1.05" fill="none"/>
<circle cx="578.83" cy="111.80" r="2.95" fill="none" stroke="rgb(215,10,83)" stroke-width="1.25"/>
<path d="M575.43 112.60H582.23M578.83 109.20V116.00" stroke="rgb(215,10,83)" stroke-width="1.3" fill="none"/><path d="M576.56 110.34L581.09 114.86M576.56 114.86L581.09 110.34" stroke="rgb(215,10,83)" stroke-width="1.05" fill="none"/>
<circle cx="583.65" cy="185.90" r="2.95" fill="none" stroke="rgb(215,10,83)" stroke-width="1.25"/>
<path d="M580.25 186.70H587.05M583.65 183.30V190.10" stroke="rgb(215,10,83)" stroke-width="1.3" fill="none"/><path d="M581.39 184.44L585.91 188.96M581.39 188.96L585.91 184.44" stroke="rgb(215,10,83)" stroke-width="1.05" fill="none"/>
<circle cx="588.47" cy="135.30" r="2.95" fill="none" stroke="rgb(215,10,83)" stroke-width="1.25"/>
<path d="M585.07 136.10H591.87M588.47 132.70V139.50" stroke="rgb(215,10,83)" stroke-width="1.3" fill="none"/><path d="M586.21 133.84L590.73 138.36M586.21 138.36L590.73 133.84" stroke="rgb(215,10,83)" stroke-width="1.05" fill="none"/>
<circle cx="593.29" cy="147.00" r="2.95" fill="none" stroke="rgb(215,10,83)" stroke-width="1.25"/>
<path d="M589.89 147.80H596.69M593.29 144.40V151.20" stroke="rgb(215,10,83)" stroke-width="1.3" fill="none"/><path d="M591.03 145.54L595.55 150.06M591.03 150.06L595.55 145.54" stroke="rgb(215,10,83)" stroke-width="1.05" fill="none"/>
<circle cx="598.11" cy="186.00" r="2.95" fill="none" stroke="rgb(215,10,83)" stroke-width="1.25"/>
<path d="M594.71 188.30H601.51M598.11 184.90V191.70" stroke="rgb(215,10,83)" stroke-width="1.3" fill="none"/><path d="M595.85 186.04L600.38 190.56M595.85 190.56L600.38 186.04" stroke="rgb(215,10,83)" stroke-width="1.05" fill="none"/>
<circle cx="602.94" cy="121.70" r="2.95" fill="none" stroke="rgb(215,10,83)" stroke-width="1.25"/>
<path d="M599.54 122.50H606.34M602.94 119.10V125.90" stroke="rgb(215,10,83)" stroke-width="1.3" fill="none"/><path d="M600.67 120.24L605.20 124.76M600.67 124.76L605.20 120.24" stroke="rgb(215,10,83)" stroke-width="1.05" fill="none"/>
<circle cx="607.76" cy="150.70" r="2.95" fill="none" stroke="rgb(215,10,83)" stroke-width="1.25"/>
<path d="M604.36 151.50H611.16M607.76 148.10V154.90" stroke="rgb(215,10,83)" stroke-width="1.3" fill="none"/><path d="M605.50 149.24L610.02 153.76M605.50 153.76L610.02 149.24" stroke="rgb(215,10,83)" stroke-width="1.05" fill="none"/>
<circle cx="612.58" cy="182.70" r="2.95" fill="none" stroke="rgb(215,10,83)" stroke-width="1.25"/>
<path d="M609.18 183.50H615.98M612.58 180.10V186.90" stroke="rgb(215,10,83)" stroke-width="1.3" fill="none"/><path d="M610.32 181.24L614.84 185.76M610.32 185.76L614.84 181.24" stroke="rgb(215,10,83)" stroke-width="1.05" fill="none"/>
<circle cx="617.40" cy="115.70" r="2.95" fill="none" stroke="rgb(215,10,83)" stroke-width="1.25"/>
<path d="M614.00 116.50H620.80M617.40 113.10V119.90" stroke="rgb(215,10,83)" stroke-width="1.3" fill="none"/><path d="M615.14 114.24L619.66 118.76M615.14 118.76L619.66 114.24" stroke="rgb(215,10,83)" stroke-width="1.05" fill="none"/>
<circle cx="622.22" cy="161.30" r="2.95" fill="none" stroke="rgb(215,10,83)" stroke-width="1.25"/>
<path d="M618.82 163.60H625.62M622.22 160.20V167.00" stroke="rgb(215,10,83)" stroke-width="1.3" fill="none"/><path d="M619.96 161.34L624.49 165.86M619.96 165.86L624.49 161.34" stroke="rgb(215,10,83)" stroke-width="1.05" fill="none"/>
<circle cx="627.05" cy="165.90" r="2.95" fill="none" stroke="rgb(215,10,83)" stroke-width="1.25"/>
<path d="M623.65 166.70H630.45M627.05 163.30V170.10" stroke="rgb(215,10,83)" stroke-width="1.3" fill="none"/><path d="M624.78 164.44L629.31 168.96M624.78 168.96L629.31 164.44" stroke="rgb(215,10,83)" stroke-width="1.05" fill="none"/>
<circle cx="631.87" cy="129.70" r="2.95" fill="none" stroke="rgb(215,10,83)" stroke-width="1.25"/>
<path d="M628.47 130.50H635.27M631.87 127.10V133.90" stroke="rgb(215,10,83)" stroke-width="1.3" fill="none"/><path d="M629.61 128.24L634.13 132.76M629.61 132.76L634.13 128.24" stroke="rgb(215,10,83)" stroke-width="1.05" fill="none"/>
<circle cx="636.69" cy="244.80" r="2.95" fill="none" stroke="rgb(215,10,83)" stroke-width="1.25"/>
<path d="M633.29 245.60H640.09M636.69 242.20V249.00" stroke="rgb(215,10,83)" stroke-width="1.3" fill="none"/><path d="M634.43 243.34L638.95 247.86M634.43 247.86L638.95 243.34" stroke="rgb(215,10,83)" stroke-width="1.05" fill="none"/>
<circle cx="641.51" cy="139.10" r="2.95" fill="none" stroke="rgb(215,10,83)" stroke-width="1.25"/>
<path d="M638.11 139.90H644.91M641.51 136.50V143.30" stroke="rgb(215,10,83)" stroke-width="1.3" fill="none"/><path d="M639.25 137.64L643.77 142.16M639.25 142.16L643.77 137.64" stroke="rgb(215,10,83)" stroke-width="1.05" fill="none"/>
<circle cx="646.33" cy="118.20" r="2.95" fill="none" stroke="rgb(215,10,83)" stroke-width="1.25"/>
<path d="M642.93 119.00H649.73M646.33 115.60V122.40" stroke="rgb(215,10,83)" stroke-width="1.3" fill="none"/><path d="M644.07 116.74L648.60 121.26M644.07 121.26L648.60 116.74" stroke="rgb(215,10,83)" stroke-width="1.05" fill="none"/>
<circle cx="651.16" cy="181.90" r="2.95" fill="none" stroke="rgb(215,10,83)" stroke-width="1.25"/>
<path d="M647.76 182.70H654.56M651.16 179.30V186.10" stroke="rgb(215,10,83)" stroke-width="1.3" fill="none"/><path d="M648.89 180.44L653.42 184.96M648.89 184.96L653.42 180.44" stroke="rgb(215,10,83)" stroke-width="1.05" fill="none"/>
<circle cx="655.98" cy="398.40" r="2.95" fill="none" stroke="rgb(215,10,83)" stroke-width="1.25"/>
<path d="M652.58 399.20H659.38M655.98 395.80V402.60" stroke="rgb(215,10,83)" stroke-width="1.3" fill="none"/><path d="M653.72 396.94L658.24 401.46M653.72 401.46L658.24 396.94" stroke="rgb(215,10,83)" stroke-width="1.05" fill="none"/>
<text x="53" y="405.90" font-size="14" text-anchor="end" fill="rgb(38,38,38)" stroke="rgb(38,38,38)" stroke-width="0.3">0</text>
<text x="673" y="405.90" font-size="14" text-anchor="middle" fill="rgb(215,10,83)" stroke="rgb(215,10,83)" stroke-width="0.3">0</text>
<text x="53" y="372.90" font-size="14" text-anchor="end" fill="rgb(38,38,38)" stroke="rgb(38,38,38)" stroke-width="0.3">0.2</text>
<text x="673" y="372.90" font-size="14" text-anchor="middle" fill="rgb(215,10,83)" stroke="rgb(215,10,83)" stroke-width="0.3">40</text>
<text x="53" y="339.90" font-size="14" text-anchor="end" fill="rgb(38,38,38)" stroke="rgb(38,38,38)" stroke-width="0.3">0.4</text>
<text x="673" y="339.90" font-size="14" text-anchor="middle" fill="rgb(215,10,83)" stroke="rgb(215,10,83)" stroke-width="0.3">80</text>
<text x="53" y="306.90" font-size="14" text-anchor="end" fill="rgb(38,38,38)" stroke="rgb(38,38,38)" stroke-width="0.3">0.6</text>
<text x="673" y="306.90" font-size="14" text-anchor="middle" fill="rgb(215,10,83)" stroke="rgb(215,10,83)" stroke-width="0.3">120</text>
<text x="53" y="273.90" font-size="14" text-anchor="end" fill="rgb(38,38,38)" stroke="rgb(38,38,38)" stroke-width="0.3">0.8</text>
<text x="673" y="273.90" font-size="14" text-anchor="middle" fill="rgb(215,10,83)" stroke="rgb(215,10,83)" stroke-width="0.3">160</text>
<text x="53" y="240.90" font-size="14" text-anchor="end" fill="rgb(38,38,38)" stroke="rgb(38,38,38)" stroke-width="0.3">1</text>
<text x="673" y="240.90" font-size="14" text-anchor="middle" fill="rgb(215,10,83)" stroke="rgb(215,10,83)" stroke-width="0.3">200</text>
<text x="53" y="207.90" font-size="14" text-anchor="end" fill="rgb(38,38,38)" stroke="rgb(38,38,38)" stroke-width="0.3">1.2</text>
<text x="673" y="207.90" font-size="14" text-anchor="middle" fill="rgb(215,10,83)" stroke="rgb(215,10,83)" stroke-width="0.3">240</text>
<text x="53" y="174.90" font-size="14" text-anchor="end" fill="rgb(38,38,38)" stroke="rgb(38,38,38)" stroke-width="0.3">1.4</text>
<text x="673" y="174.90" font-size="14" text-anchor="middle" fill="rgb(215,10,83)" stroke="rgb(215,10,83)" stroke-width="0.3">280</text>
<text x="53" y="141.90" font-size="14" text-anchor="end" fill="rgb(38,38,38)" stroke="rgb(38,38,38)" stroke-width="0.3">1.6</text>
<text x="673" y="141.90" font-size="14" text-anchor="middle" fill="rgb(215,10,83)" stroke="rgb(215,10,83)" stroke-width="0.3">320</text>
<text x="53" y="108.90" font-size="14" text-anchor="end" fill="rgb(38,38,38)" stroke="rgb(38,38,38)" stroke-width="0.3">1.8</text>
<text x="673" y="108.90" font-size="14" text-anchor="middle" fill="rgb(215,10,83)" stroke="rgb(215,10,83)" stroke-width="0.3">360</text>
<text x="53" y="75.90" font-size="14" text-anchor="end" fill="rgb(38,38,38)" stroke="rgb(38,38,38)" stroke-width="0.3">2</text>
<text x="673" y="75.90" font-size="14" text-anchor="middle" fill="rgb(215,10,83)" stroke="rgb(215,10,83)" stroke-width="0.3">400</text>
<text x="134.70" y="418" font-size="14" text-anchor="middle" fill="rgb(38,38,38)" stroke="rgb(38,38,38)" stroke-width="0.3">03/05</text>
<text x="230.70" y="418" font-size="14" text-anchor="middle" fill="rgb(38,38,38)" stroke="rgb(38,38,38)" stroke-width="0.3">03/10</text>
<text x="327.70" y="418" font-size="14" text-anchor="middle" fill="rgb(38,38,38)" stroke="rgb(38,38,38)" stroke-width="0.3">03/15</text>
<text x="423.70" y="418" font-size="14" text-anchor="middle" fill="rgb(38,38,38)" stroke="rgb(38,38,38)" stroke-width="0.3">03/20</text>
<text x="519.70" y="418" font-size="14" text-anchor="middle" fill="rgb(38,38,38)" stroke="rgb(38,38,38)" stroke-width="0.3">03/25</text>
<text x="616.70" y="418" font-size="14" text-anchor="middle" fill="rgb(38,38,38)" stroke="rgb(38,38,38)" stroke-width="0.3">03/30</text>
<text x="356.6" y="436.3" font-size="14" text-anchor="middle" fill="rgb(38,38,38)" textLength="169.3" lengthAdjust="spacing" stroke="rgb(38,38,38)" stroke-width="0.3">Mar.01,2020 00:00:00 start</text>
<text transform="translate(26.8,234) rotate(-90)" x="0" y="0" font-size="14" text-anchor="middle" fill="rgb(38,38,38)" stroke="rgb(38,38,38)" stroke-width="0.3">rmse and totalspread</text>
<text transform="translate(702,232.2) rotate(-90)" x="0" y="0" font-size="14" text-anchor="middle" fill="rgb(215,10,83)" stroke="rgb(215,10,83)" stroke-width="0.3"># of obs: o=possible; <tspan font-size="10" dy="-1">&#8727;</tspan><tspan dy="1">=assimilated</tspan></text>
<text x="146" y="457.6" font-size="8" fill="#000">data file: /Users/raeder/DAI/ATM_forcXX/CAM6_setup/f.e21.FHIST_BGC.f09_025.CAM6assim.011/Diags_NTrS_2020-03/obs_diag_output.nc</text>
</svg></body></html>
